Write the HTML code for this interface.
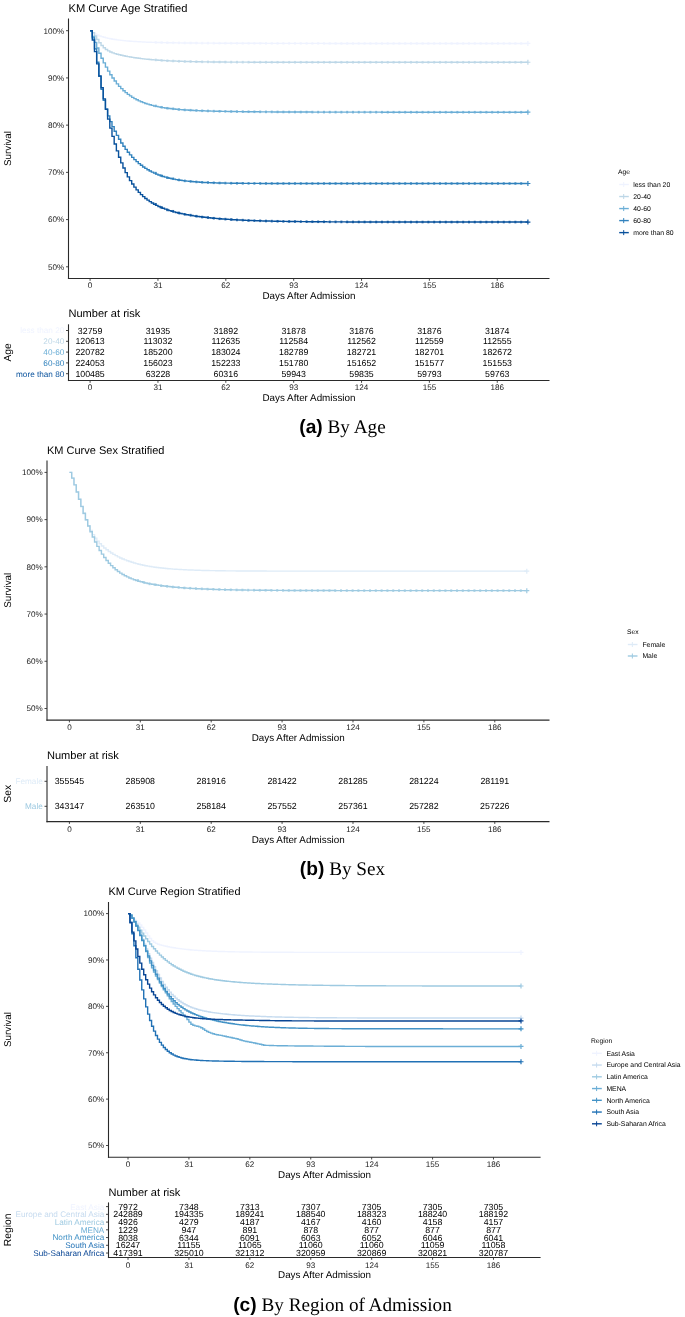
<!DOCTYPE html>
<html><head><meta charset="utf-8"><title>KM Curves</title>
<style>html,body{margin:0;padding:0;background:#fff;width:685px;height:1317px;overflow:hidden;font-family:"Liberation Sans",sans-serif;}</style>
</head><body>
<svg width="685" height="1317" viewBox="0 0 685 1317" style="display:block;filter:blur(0.3px);text-rendering:geometricPrecision">
<rect width="685" height="1317" fill="#fff"/>
<text x="68.50" y="11.70" font-size="11.15" text-anchor="start" fill="#000" font-weight="normal" font-family='"Liberation Sans", sans-serif' >KM Curve Age Stratified</text>
<path d="M90.10,30.70H92.29V32.73H94.48V34.03H96.67V35.07H98.86V35.93H101.04V36.67H103.23V37.31H105.42V37.87H107.61V38.37H109.80V38.81H111.99V39.20H114.18V39.55H116.37V39.87H118.56V40.15H120.75V40.41H122.94V40.64H125.12V40.85H127.31V41.04H129.50V41.22H131.69V41.38H133.88V41.52H136.07V41.66H138.26V41.78H140.45V41.89H142.64V41.99H144.82V42.09H147.01V42.18H149.20V42.26H151.39V42.33H153.58V42.40H155.77V42.46H157.96V42.52H160.15V42.57H162.34V42.62H164.53V42.67H166.72V42.71H168.90V42.75H171.09V42.79H173.28V42.82H175.47V42.85H177.66V42.88H179.85V42.91H182.04V42.94H184.23V42.96H186.42V42.98H188.60V43.00H190.79V43.02H192.98V43.04H195.17V43.06H197.36V43.08H199.55V43.09H201.74V43.11H203.93V43.12H206.12V43.13H208.31V43.14H210.50V43.16H212.68V43.17H214.87V43.18H217.06V43.19H219.25V43.20H221.44V43.20H223.63V43.21H225.82V43.22H228.01V43.23H230.20V43.24H232.38V43.24H234.57V43.25H236.76V43.26H238.95V43.26H241.14V43.27H243.33V43.28H245.52V43.28H247.71V43.29H249.90V43.29H252.09V43.30H254.28V43.31H256.46V43.31H258.65V43.32H260.84V43.32H263.03V43.33H265.22V43.33H267.41V43.34H269.60V43.34H271.79V43.35H273.98V43.35H276.16V43.35H278.35V43.36H280.54V43.36H282.73V43.37H284.92V43.37H287.11V43.38H289.30V43.38H291.49V43.38H293.68V43.39H295.87V43.39H298.06V43.39H300.24V43.40H302.43V43.40H304.62V43.40H306.81V43.41H309.00V43.41H311.19V43.41H313.38V43.41H315.57V43.42H317.76V43.42H319.94V43.42H322.13V43.42H324.32V43.43H326.51V43.43H328.70V43.43H330.89V43.43H333.08V43.43H335.27V43.44H337.46V43.44H339.65V43.44H341.84V43.44H344.02V43.44H346.21V43.44H348.40V43.44H350.59V43.45H352.78V43.45H354.97V43.45H357.16V43.45H359.35V43.45H361.54V43.45H363.73V43.45H365.91V43.45H368.10V43.45H370.29V43.45H372.48V43.45H374.67V43.45H376.86V43.45H379.05V43.45H381.24V43.45H383.43V43.45H385.62V43.45H387.80V43.45H389.99V43.45H392.18V43.45H394.37V43.46H396.56V43.46H398.75V43.46H400.94V43.46H403.13V43.46H405.32V43.46H407.50V43.46H409.69V43.46H411.88V43.46H414.07V43.46H416.26V43.46H418.45V43.46H420.64V43.46H422.83V43.46H425.02V43.46H427.21V43.46H429.39V43.46H431.58V43.46H433.77V43.46H435.96V43.46H438.15V43.46H440.34V43.46H442.53V43.46H444.72V43.46H446.91V43.46H449.10V43.46H451.28V43.46H453.47V43.46H455.66V43.46H457.85V43.46H460.04V43.46H462.23V43.46H464.42V43.46H466.61V43.46H468.80V43.46H470.99V43.46H473.17V43.46H475.36V43.46H477.55V43.46H479.74V43.46H481.93V43.46H484.12V43.46H486.31V43.46H488.50V43.46H490.69V43.46H492.88V43.46H495.07V43.46H497.25V43.46H499.44V43.46H501.63V43.46H503.82V43.46H506.01V43.46H508.20V43.46H510.39V43.46H512.58V43.46H514.77V43.46H516.96V43.46H519.14V43.46H521.33V43.46H523.52V43.46H525.71V43.46H527.90V43.46" fill="none" stroke="#EFF3FF" stroke-width="1.4" stroke-linejoin="miter"/>
<rect x="154.77" y="41.10" width="2.0" height="2.6" fill="#EFF3FF" opacity="0.8"/>
<rect x="160.57" y="41.27" width="2.0" height="2.6" fill="#EFF3FF" opacity="0.8"/>
<rect x="166.37" y="41.41" width="2.0" height="2.6" fill="#EFF3FF" opacity="0.8"/>
<rect x="172.17" y="41.49" width="2.0" height="2.6" fill="#EFF3FF" opacity="0.8"/>
<rect x="177.97" y="41.58" width="2.0" height="2.6" fill="#EFF3FF" opacity="0.8"/>
<rect x="183.77" y="41.66" width="2.0" height="2.6" fill="#EFF3FF" opacity="0.8"/>
<rect x="189.57" y="41.70" width="2.0" height="2.6" fill="#EFF3FF" opacity="0.8"/>
<rect x="195.37" y="41.76" width="2.0" height="2.6" fill="#EFF3FF" opacity="0.8"/>
<rect x="201.17" y="41.81" width="2.0" height="2.6" fill="#EFF3FF" opacity="0.8"/>
<rect x="206.97" y="41.83" width="2.0" height="2.6" fill="#EFF3FF" opacity="0.8"/>
<rect x="212.77" y="41.87" width="2.0" height="2.6" fill="#EFF3FF" opacity="0.8"/>
<rect x="218.57" y="41.90" width="2.0" height="2.6" fill="#EFF3FF" opacity="0.8"/>
<rect x="224.37" y="41.91" width="2.0" height="2.6" fill="#EFF3FF" opacity="0.8"/>
<rect x="230.17" y="41.94" width="2.0" height="2.6" fill="#EFF3FF" opacity="0.8"/>
<rect x="235.97" y="41.96" width="2.0" height="2.6" fill="#EFF3FF" opacity="0.8"/>
<rect x="241.77" y="41.97" width="2.0" height="2.6" fill="#EFF3FF" opacity="0.8"/>
<rect x="247.57" y="41.99" width="2.0" height="2.6" fill="#EFF3FF" opacity="0.8"/>
<rect x="253.37" y="42.01" width="2.0" height="2.6" fill="#EFF3FF" opacity="0.8"/>
<rect x="259.17" y="42.02" width="2.0" height="2.6" fill="#EFF3FF" opacity="0.8"/>
<rect x="264.97" y="42.03" width="2.0" height="2.6" fill="#EFF3FF" opacity="0.8"/>
<rect x="270.77" y="42.04" width="2.0" height="2.6" fill="#EFF3FF" opacity="0.8"/>
<rect x="276.57" y="42.05" width="2.0" height="2.6" fill="#EFF3FF" opacity="0.8"/>
<rect x="282.37" y="42.07" width="2.0" height="2.6" fill="#EFF3FF" opacity="0.8"/>
<rect x="288.17" y="42.08" width="2.0" height="2.6" fill="#EFF3FF" opacity="0.8"/>
<rect x="293.97" y="42.09" width="2.0" height="2.6" fill="#EFF3FF" opacity="0.8"/>
<rect x="299.77" y="42.10" width="2.0" height="2.6" fill="#EFF3FF" opacity="0.8"/>
<rect x="305.57" y="42.10" width="2.0" height="2.6" fill="#EFF3FF" opacity="0.8"/>
<rect x="311.37" y="42.11" width="2.0" height="2.6" fill="#EFF3FF" opacity="0.8"/>
<rect x="317.17" y="42.12" width="2.0" height="2.6" fill="#EFF3FF" opacity="0.8"/>
<rect x="322.97" y="42.12" width="2.0" height="2.6" fill="#EFF3FF" opacity="0.8"/>
<rect x="328.77" y="42.13" width="2.0" height="2.6" fill="#EFF3FF" opacity="0.8"/>
<rect x="334.57" y="42.14" width="2.0" height="2.6" fill="#EFF3FF" opacity="0.8"/>
<rect x="340.37" y="42.14" width="2.0" height="2.6" fill="#EFF3FF" opacity="0.8"/>
<rect x="346.17" y="42.14" width="2.0" height="2.6" fill="#EFF3FF" opacity="0.8"/>
<rect x="351.97" y="42.15" width="2.0" height="2.6" fill="#EFF3FF" opacity="0.8"/>
<rect x="357.77" y="42.15" width="2.0" height="2.6" fill="#EFF3FF" opacity="0.8"/>
<rect x="363.57" y="42.15" width="2.0" height="2.6" fill="#EFF3FF" opacity="0.8"/>
<rect x="369.37" y="42.15" width="2.0" height="2.6" fill="#EFF3FF" opacity="0.8"/>
<rect x="375.17" y="42.15" width="2.0" height="2.6" fill="#EFF3FF" opacity="0.8"/>
<rect x="380.97" y="42.15" width="2.0" height="2.6" fill="#EFF3FF" opacity="0.8"/>
<rect x="386.77" y="42.15" width="2.0" height="2.6" fill="#EFF3FF" opacity="0.8"/>
<rect x="392.57" y="42.15" width="2.0" height="2.6" fill="#EFF3FF" opacity="0.8"/>
<rect x="398.37" y="42.16" width="2.0" height="2.6" fill="#EFF3FF" opacity="0.8"/>
<rect x="404.17" y="42.16" width="2.0" height="2.6" fill="#EFF3FF" opacity="0.8"/>
<rect x="409.97" y="42.16" width="2.0" height="2.6" fill="#EFF3FF" opacity="0.8"/>
<rect x="415.77" y="42.16" width="2.0" height="2.6" fill="#EFF3FF" opacity="0.8"/>
<rect x="421.57" y="42.16" width="2.0" height="2.6" fill="#EFF3FF" opacity="0.8"/>
<rect x="427.37" y="42.16" width="2.0" height="2.6" fill="#EFF3FF" opacity="0.8"/>
<rect x="433.17" y="42.16" width="2.0" height="2.6" fill="#EFF3FF" opacity="0.8"/>
<rect x="438.97" y="42.16" width="2.0" height="2.6" fill="#EFF3FF" opacity="0.8"/>
<rect x="444.77" y="42.16" width="2.0" height="2.6" fill="#EFF3FF" opacity="0.8"/>
<rect x="450.57" y="42.16" width="2.0" height="2.6" fill="#EFF3FF" opacity="0.8"/>
<rect x="456.37" y="42.16" width="2.0" height="2.6" fill="#EFF3FF" opacity="0.8"/>
<rect x="462.17" y="42.16" width="2.0" height="2.6" fill="#EFF3FF" opacity="0.8"/>
<rect x="467.97" y="42.16" width="2.0" height="2.6" fill="#EFF3FF" opacity="0.8"/>
<rect x="473.77" y="42.16" width="2.0" height="2.6" fill="#EFF3FF" opacity="0.8"/>
<rect x="479.57" y="42.16" width="2.0" height="2.6" fill="#EFF3FF" opacity="0.8"/>
<rect x="485.37" y="42.16" width="2.0" height="2.6" fill="#EFF3FF" opacity="0.8"/>
<rect x="491.17" y="42.16" width="2.0" height="2.6" fill="#EFF3FF" opacity="0.8"/>
<rect x="496.97" y="42.16" width="2.0" height="2.6" fill="#EFF3FF" opacity="0.8"/>
<rect x="502.77" y="42.16" width="2.0" height="2.6" fill="#EFF3FF" opacity="0.8"/>
<rect x="508.57" y="42.16" width="2.0" height="2.6" fill="#EFF3FF" opacity="0.8"/>
<rect x="514.37" y="42.16" width="2.0" height="2.6" fill="#EFF3FF" opacity="0.8"/>
<rect x="520.17" y="42.16" width="2.0" height="2.6" fill="#EFF3FF" opacity="0.8"/>
<path d="M525.40,43.46H530.40M527.90,40.96V45.96" stroke="#EFF3FF" stroke-width="1.2" fill="none"/>
<path d="M90.10,30.70H92.29V32.78H94.48V36.02H96.67V39.47H98.86V42.69H101.04V45.45H103.23V47.70H105.42V49.48H107.61V50.87H109.80V51.97H111.99V52.85H114.18V53.59H116.37V54.23H118.56V54.79H120.75V55.30H122.94V55.78H125.12V56.21H127.31V56.62H129.50V57.01H131.69V57.36H133.88V57.70H136.07V58.02H138.26V58.31H140.45V58.59H142.64V58.84H144.82V59.08H147.01V59.31H149.20V59.52H151.39V59.72H153.58V59.90H155.77V60.07H157.96V60.23H160.15V60.37H162.34V60.51H164.53V60.64H166.72V60.76H168.90V60.87H171.09V60.97H173.28V61.07H175.47V61.15H177.66V61.24H179.85V61.31H182.04V61.38H184.23V61.45H186.42V61.51H188.60V61.57H190.79V61.62H192.98V61.67H195.17V61.71H197.36V61.75H199.55V61.79H201.74V61.83H203.93V61.86H206.12V61.89H208.31V61.92H210.50V61.94H212.68V61.97H214.87V61.99H217.06V62.01H219.25V62.03H221.44V62.04H223.63V62.06H225.82V62.08H228.01V62.09H230.20V62.10H232.38V62.11H234.57V62.12H236.76V62.13H238.95V62.14H241.14V62.15H243.33V62.16H245.52V62.17H247.71V62.17H249.90V62.18H252.09V62.18H254.28V62.19H256.46V62.19H258.65V62.20H260.84V62.20H263.03V62.21H265.22V62.21H267.41V62.21H269.60V62.22H271.79V62.22H273.98V62.22H276.16V62.22H278.35V62.22H280.54V62.23H282.73V62.23H284.92V62.23H287.11V62.23H289.30V62.23H291.49V62.23H293.68V62.23H295.87V62.24H298.06V62.24H300.24V62.24H302.43V62.24H304.62V62.24H306.81V62.24H309.00V62.24H311.19V62.24H313.38V62.24H315.57V62.24H317.76V62.24H319.94V62.24H322.13V62.24H324.32V62.24H326.51V62.24H328.70V62.24H330.89V62.24H333.08V62.24H335.27V62.24H337.46V62.24H339.65V62.25H341.84V62.25H344.02V62.25H346.21V62.25H348.40V62.25H350.59V62.25H352.78V62.25H354.97V62.25H357.16V62.25H359.35V62.25H361.54V62.25H363.73V62.25H365.91V62.25H368.10V62.25H370.29V62.25H372.48V62.25H374.67V62.25H376.86V62.25H379.05V62.25H381.24V62.25H383.43V62.25H385.62V62.25H387.80V62.25H389.99V62.25H392.18V62.25H394.37V62.25H396.56V62.25H398.75V62.25H400.94V62.25H403.13V62.25H405.32V62.25H407.50V62.25H409.69V62.25H411.88V62.25H414.07V62.25H416.26V62.25H418.45V62.25H420.64V62.25H422.83V62.25H425.02V62.25H427.21V62.25H429.39V62.25H431.58V62.25H433.77V62.25H435.96V62.25H438.15V62.25H440.34V62.25H442.53V62.25H444.72V62.25H446.91V62.25H449.10V62.25H451.28V62.25H453.47V62.25H455.66V62.25H457.85V62.25H460.04V62.25H462.23V62.25H464.42V62.25H466.61V62.25H468.80V62.25H470.99V62.25H473.17V62.25H475.36V62.25H477.55V62.25H479.74V62.25H481.93V62.25H484.12V62.25H486.31V62.25H488.50V62.25H490.69V62.25H492.88V62.25H495.07V62.25H497.25V62.25H499.44V62.25H501.63V62.25H503.82V62.25H506.01V62.25H508.20V62.25H510.39V62.25H512.58V62.25H514.77V62.25H516.96V62.25H519.14V62.25H521.33V62.25H523.52V62.25H525.71V62.25H527.90V62.25" fill="none" stroke="#BDD7E7" stroke-width="1.4" stroke-linejoin="miter"/>
<rect x="154.77" y="58.60" width="2.0" height="2.6" fill="#BDD7E7" opacity="0.8"/>
<rect x="160.57" y="59.07" width="2.0" height="2.6" fill="#BDD7E7" opacity="0.8"/>
<rect x="166.37" y="59.46" width="2.0" height="2.6" fill="#BDD7E7" opacity="0.8"/>
<rect x="172.17" y="59.67" width="2.0" height="2.6" fill="#BDD7E7" opacity="0.8"/>
<rect x="177.97" y="59.94" width="2.0" height="2.6" fill="#BDD7E7" opacity="0.8"/>
<rect x="183.77" y="60.15" width="2.0" height="2.6" fill="#BDD7E7" opacity="0.8"/>
<rect x="189.57" y="60.27" width="2.0" height="2.6" fill="#BDD7E7" opacity="0.8"/>
<rect x="195.37" y="60.41" width="2.0" height="2.6" fill="#BDD7E7" opacity="0.8"/>
<rect x="201.17" y="60.53" width="2.0" height="2.6" fill="#BDD7E7" opacity="0.8"/>
<rect x="206.97" y="60.59" width="2.0" height="2.6" fill="#BDD7E7" opacity="0.8"/>
<rect x="212.77" y="60.67" width="2.0" height="2.6" fill="#BDD7E7" opacity="0.8"/>
<rect x="218.57" y="60.73" width="2.0" height="2.6" fill="#BDD7E7" opacity="0.8"/>
<rect x="224.37" y="60.76" width="2.0" height="2.6" fill="#BDD7E7" opacity="0.8"/>
<rect x="230.17" y="60.80" width="2.0" height="2.6" fill="#BDD7E7" opacity="0.8"/>
<rect x="235.97" y="60.83" width="2.0" height="2.6" fill="#BDD7E7" opacity="0.8"/>
<rect x="241.77" y="60.85" width="2.0" height="2.6" fill="#BDD7E7" opacity="0.8"/>
<rect x="247.57" y="60.87" width="2.0" height="2.6" fill="#BDD7E7" opacity="0.8"/>
<rect x="253.37" y="60.89" width="2.0" height="2.6" fill="#BDD7E7" opacity="0.8"/>
<rect x="259.17" y="60.90" width="2.0" height="2.6" fill="#BDD7E7" opacity="0.8"/>
<rect x="264.97" y="60.91" width="2.0" height="2.6" fill="#BDD7E7" opacity="0.8"/>
<rect x="270.77" y="60.92" width="2.0" height="2.6" fill="#BDD7E7" opacity="0.8"/>
<rect x="276.57" y="60.92" width="2.0" height="2.6" fill="#BDD7E7" opacity="0.8"/>
<rect x="282.37" y="60.93" width="2.0" height="2.6" fill="#BDD7E7" opacity="0.8"/>
<rect x="288.17" y="60.93" width="2.0" height="2.6" fill="#BDD7E7" opacity="0.8"/>
<rect x="293.97" y="60.93" width="2.0" height="2.6" fill="#BDD7E7" opacity="0.8"/>
<rect x="299.77" y="60.94" width="2.0" height="2.6" fill="#BDD7E7" opacity="0.8"/>
<rect x="305.57" y="60.94" width="2.0" height="2.6" fill="#BDD7E7" opacity="0.8"/>
<rect x="311.37" y="60.94" width="2.0" height="2.6" fill="#BDD7E7" opacity="0.8"/>
<rect x="317.17" y="60.94" width="2.0" height="2.6" fill="#BDD7E7" opacity="0.8"/>
<rect x="322.97" y="60.94" width="2.0" height="2.6" fill="#BDD7E7" opacity="0.8"/>
<rect x="328.77" y="60.94" width="2.0" height="2.6" fill="#BDD7E7" opacity="0.8"/>
<rect x="334.57" y="60.94" width="2.0" height="2.6" fill="#BDD7E7" opacity="0.8"/>
<rect x="340.37" y="60.95" width="2.0" height="2.6" fill="#BDD7E7" opacity="0.8"/>
<rect x="346.17" y="60.95" width="2.0" height="2.6" fill="#BDD7E7" opacity="0.8"/>
<rect x="351.97" y="60.95" width="2.0" height="2.6" fill="#BDD7E7" opacity="0.8"/>
<rect x="357.77" y="60.95" width="2.0" height="2.6" fill="#BDD7E7" opacity="0.8"/>
<rect x="363.57" y="60.95" width="2.0" height="2.6" fill="#BDD7E7" opacity="0.8"/>
<rect x="369.37" y="60.95" width="2.0" height="2.6" fill="#BDD7E7" opacity="0.8"/>
<rect x="375.17" y="60.95" width="2.0" height="2.6" fill="#BDD7E7" opacity="0.8"/>
<rect x="380.97" y="60.95" width="2.0" height="2.6" fill="#BDD7E7" opacity="0.8"/>
<rect x="386.77" y="60.95" width="2.0" height="2.6" fill="#BDD7E7" opacity="0.8"/>
<rect x="392.57" y="60.95" width="2.0" height="2.6" fill="#BDD7E7" opacity="0.8"/>
<rect x="398.37" y="60.95" width="2.0" height="2.6" fill="#BDD7E7" opacity="0.8"/>
<rect x="404.17" y="60.95" width="2.0" height="2.6" fill="#BDD7E7" opacity="0.8"/>
<rect x="409.97" y="60.95" width="2.0" height="2.6" fill="#BDD7E7" opacity="0.8"/>
<rect x="415.77" y="60.95" width="2.0" height="2.6" fill="#BDD7E7" opacity="0.8"/>
<rect x="421.57" y="60.95" width="2.0" height="2.6" fill="#BDD7E7" opacity="0.8"/>
<rect x="427.37" y="60.95" width="2.0" height="2.6" fill="#BDD7E7" opacity="0.8"/>
<rect x="433.17" y="60.95" width="2.0" height="2.6" fill="#BDD7E7" opacity="0.8"/>
<rect x="438.97" y="60.95" width="2.0" height="2.6" fill="#BDD7E7" opacity="0.8"/>
<rect x="444.77" y="60.95" width="2.0" height="2.6" fill="#BDD7E7" opacity="0.8"/>
<rect x="450.57" y="60.95" width="2.0" height="2.6" fill="#BDD7E7" opacity="0.8"/>
<rect x="456.37" y="60.95" width="2.0" height="2.6" fill="#BDD7E7" opacity="0.8"/>
<rect x="462.17" y="60.95" width="2.0" height="2.6" fill="#BDD7E7" opacity="0.8"/>
<rect x="467.97" y="60.95" width="2.0" height="2.6" fill="#BDD7E7" opacity="0.8"/>
<rect x="473.77" y="60.95" width="2.0" height="2.6" fill="#BDD7E7" opacity="0.8"/>
<rect x="479.57" y="60.95" width="2.0" height="2.6" fill="#BDD7E7" opacity="0.8"/>
<rect x="485.37" y="60.95" width="2.0" height="2.6" fill="#BDD7E7" opacity="0.8"/>
<rect x="491.17" y="60.95" width="2.0" height="2.6" fill="#BDD7E7" opacity="0.8"/>
<rect x="496.97" y="60.95" width="2.0" height="2.6" fill="#BDD7E7" opacity="0.8"/>
<rect x="502.77" y="60.95" width="2.0" height="2.6" fill="#BDD7E7" opacity="0.8"/>
<rect x="508.57" y="60.95" width="2.0" height="2.6" fill="#BDD7E7" opacity="0.8"/>
<rect x="514.37" y="60.95" width="2.0" height="2.6" fill="#BDD7E7" opacity="0.8"/>
<rect x="520.17" y="60.95" width="2.0" height="2.6" fill="#BDD7E7" opacity="0.8"/>
<path d="M525.40,62.25H530.40M527.90,59.75V64.75" stroke="#BDD7E7" stroke-width="1.2" fill="none"/>
<path d="M90.10,30.70H92.29V36.50H94.48V42.36H96.67V47.99H98.86V53.30H101.04V58.27H103.23V62.89H105.42V67.17H107.61V71.10H109.80V74.72H111.99V78.04H114.18V81.07H116.37V83.83H118.56V86.35H120.75V88.65H122.94V90.74H125.12V92.63H127.31V94.36H129.50V95.92H131.69V97.34H133.88V98.62H136.07V99.79H138.26V100.84H140.45V101.80H142.64V102.67H144.82V103.45H147.01V104.17H149.20V104.81H151.39V105.40H153.58V105.93H155.77V106.42H157.96V106.86H160.15V107.26H162.34V107.62H164.53V107.95H166.72V108.26H168.90V108.54H171.09V108.79H173.28V109.02H175.47V109.23H177.66V109.43H179.85V109.61H182.04V109.77H184.23V109.93H186.42V110.07H188.60V110.20H190.79V110.32H192.98V110.43H195.17V110.53H197.36V110.63H199.55V110.71H201.74V110.80H203.93V110.87H206.12V110.95H208.31V111.01H210.50V111.08H212.68V111.14H214.87V111.19H217.06V111.24H219.25V111.29H221.44V111.34H223.63V111.38H225.82V111.42H228.01V111.46H230.20V111.50H232.38V111.53H234.57V111.56H236.76V111.60H238.95V111.62H241.14V111.65H243.33V111.68H245.52V111.70H247.71V111.73H249.90V111.75H252.09V111.77H254.28V111.79H256.46V111.81H258.65V111.83H260.84V111.84H263.03V111.86H265.22V111.88H267.41V111.89H269.60V111.91H271.79V111.92H273.98V111.93H276.16V111.94H278.35V111.96H280.54V111.97H282.73V111.98H284.92V111.99H287.11V112.00H289.30V112.01H291.49V112.02H293.68V112.02H295.87V112.03H298.06V112.04H300.24V112.05H302.43V112.05H304.62V112.06H306.81V112.07H309.00V112.07H311.19V112.08H313.38V112.09H315.57V112.09H317.76V112.10H319.94V112.10H322.13V112.11H324.32V112.11H326.51V112.11H328.70V112.12H330.89V112.12H333.08V112.13H335.27V112.13H337.46V112.13H339.65V112.14H341.84V112.14H344.02V112.14H346.21V112.14H348.40V112.15H350.59V112.15H352.78V112.15H354.97V112.15H357.16V112.16H359.35V112.16H361.54V112.16H363.73V112.16H365.91V112.16H368.10V112.17H370.29V112.17H372.48V112.17H374.67V112.17H376.86V112.17H379.05V112.17H381.24V112.18H383.43V112.18H385.62V112.18H387.80V112.18H389.99V112.18H392.18V112.18H394.37V112.18H396.56V112.18H398.75V112.19H400.94V112.19H403.13V112.19H405.32V112.19H407.50V112.19H409.69V112.19H411.88V112.19H414.07V112.19H416.26V112.19H418.45V112.19H420.64V112.19H422.83V112.19H425.02V112.19H427.21V112.20H429.39V112.20H431.58V112.20H433.77V112.20H435.96V112.20H438.15V112.20H440.34V112.20H442.53V112.20H444.72V112.20H446.91V112.20H449.10V112.20H451.28V112.20H453.47V112.20H455.66V112.20H457.85V112.20H460.04V112.20H462.23V112.20H464.42V112.20H466.61V112.20H468.80V112.20H470.99V112.20H473.17V112.20H475.36V112.20H477.55V112.20H479.74V112.20H481.93V112.20H484.12V112.20H486.31V112.20H488.50V112.20H490.69V112.20H492.88V112.20H495.07V112.20H497.25V112.20H499.44V112.20H501.63V112.20H503.82V112.21H506.01V112.21H508.20V112.21H510.39V112.21H512.58V112.21H514.77V112.21H516.96V112.21H519.14V112.21H521.33V112.21H523.52V112.21H525.71V112.21H527.90V112.21" fill="none" stroke="#6BAED6" stroke-width="1.4" stroke-linejoin="miter"/>
<rect x="154.77" y="104.63" width="2.0" height="2.6" fill="#6BAED6" opacity="0.8"/>
<rect x="160.57" y="105.96" width="2.0" height="2.6" fill="#6BAED6" opacity="0.8"/>
<rect x="166.37" y="106.96" width="2.0" height="2.6" fill="#6BAED6" opacity="0.8"/>
<rect x="172.17" y="107.49" width="2.0" height="2.6" fill="#6BAED6" opacity="0.8"/>
<rect x="177.97" y="108.13" width="2.0" height="2.6" fill="#6BAED6" opacity="0.8"/>
<rect x="183.77" y="108.63" width="2.0" height="2.6" fill="#6BAED6" opacity="0.8"/>
<rect x="189.57" y="108.90" width="2.0" height="2.6" fill="#6BAED6" opacity="0.8"/>
<rect x="195.37" y="109.23" width="2.0" height="2.6" fill="#6BAED6" opacity="0.8"/>
<rect x="201.17" y="109.50" width="2.0" height="2.6" fill="#6BAED6" opacity="0.8"/>
<rect x="206.97" y="109.65" width="2.0" height="2.6" fill="#6BAED6" opacity="0.8"/>
<rect x="212.77" y="109.84" width="2.0" height="2.6" fill="#6BAED6" opacity="0.8"/>
<rect x="218.57" y="109.99" width="2.0" height="2.6" fill="#6BAED6" opacity="0.8"/>
<rect x="224.37" y="110.08" width="2.0" height="2.6" fill="#6BAED6" opacity="0.8"/>
<rect x="230.17" y="110.20" width="2.0" height="2.6" fill="#6BAED6" opacity="0.8"/>
<rect x="235.97" y="110.30" width="2.0" height="2.6" fill="#6BAED6" opacity="0.8"/>
<rect x="241.77" y="110.35" width="2.0" height="2.6" fill="#6BAED6" opacity="0.8"/>
<rect x="247.57" y="110.43" width="2.0" height="2.6" fill="#6BAED6" opacity="0.8"/>
<rect x="253.37" y="110.49" width="2.0" height="2.6" fill="#6BAED6" opacity="0.8"/>
<rect x="259.17" y="110.53" width="2.0" height="2.6" fill="#6BAED6" opacity="0.8"/>
<rect x="264.97" y="110.58" width="2.0" height="2.6" fill="#6BAED6" opacity="0.8"/>
<rect x="270.77" y="110.61" width="2.0" height="2.6" fill="#6BAED6" opacity="0.8"/>
<rect x="276.57" y="110.64" width="2.0" height="2.6" fill="#6BAED6" opacity="0.8"/>
<rect x="282.37" y="110.68" width="2.0" height="2.6" fill="#6BAED6" opacity="0.8"/>
<rect x="288.17" y="110.70" width="2.0" height="2.6" fill="#6BAED6" opacity="0.8"/>
<rect x="293.97" y="110.72" width="2.0" height="2.6" fill="#6BAED6" opacity="0.8"/>
<rect x="299.77" y="110.75" width="2.0" height="2.6" fill="#6BAED6" opacity="0.8"/>
<rect x="305.57" y="110.76" width="2.0" height="2.6" fill="#6BAED6" opacity="0.8"/>
<rect x="311.37" y="110.78" width="2.0" height="2.6" fill="#6BAED6" opacity="0.8"/>
<rect x="317.17" y="110.80" width="2.0" height="2.6" fill="#6BAED6" opacity="0.8"/>
<rect x="322.97" y="110.81" width="2.0" height="2.6" fill="#6BAED6" opacity="0.8"/>
<rect x="328.77" y="110.82" width="2.0" height="2.6" fill="#6BAED6" opacity="0.8"/>
<rect x="334.57" y="110.83" width="2.0" height="2.6" fill="#6BAED6" opacity="0.8"/>
<rect x="340.37" y="110.84" width="2.0" height="2.6" fill="#6BAED6" opacity="0.8"/>
<rect x="346.17" y="110.84" width="2.0" height="2.6" fill="#6BAED6" opacity="0.8"/>
<rect x="351.97" y="110.85" width="2.0" height="2.6" fill="#6BAED6" opacity="0.8"/>
<rect x="357.77" y="110.86" width="2.0" height="2.6" fill="#6BAED6" opacity="0.8"/>
<rect x="363.57" y="110.86" width="2.0" height="2.6" fill="#6BAED6" opacity="0.8"/>
<rect x="369.37" y="110.87" width="2.0" height="2.6" fill="#6BAED6" opacity="0.8"/>
<rect x="375.17" y="110.87" width="2.0" height="2.6" fill="#6BAED6" opacity="0.8"/>
<rect x="380.97" y="110.88" width="2.0" height="2.6" fill="#6BAED6" opacity="0.8"/>
<rect x="386.77" y="110.88" width="2.0" height="2.6" fill="#6BAED6" opacity="0.8"/>
<rect x="392.57" y="110.88" width="2.0" height="2.6" fill="#6BAED6" opacity="0.8"/>
<rect x="398.37" y="110.89" width="2.0" height="2.6" fill="#6BAED6" opacity="0.8"/>
<rect x="404.17" y="110.89" width="2.0" height="2.6" fill="#6BAED6" opacity="0.8"/>
<rect x="409.97" y="110.89" width="2.0" height="2.6" fill="#6BAED6" opacity="0.8"/>
<rect x="415.77" y="110.89" width="2.0" height="2.6" fill="#6BAED6" opacity="0.8"/>
<rect x="421.57" y="110.89" width="2.0" height="2.6" fill="#6BAED6" opacity="0.8"/>
<rect x="427.37" y="110.90" width="2.0" height="2.6" fill="#6BAED6" opacity="0.8"/>
<rect x="433.17" y="110.90" width="2.0" height="2.6" fill="#6BAED6" opacity="0.8"/>
<rect x="438.97" y="110.90" width="2.0" height="2.6" fill="#6BAED6" opacity="0.8"/>
<rect x="444.77" y="110.90" width="2.0" height="2.6" fill="#6BAED6" opacity="0.8"/>
<rect x="450.57" y="110.90" width="2.0" height="2.6" fill="#6BAED6" opacity="0.8"/>
<rect x="456.37" y="110.90" width="2.0" height="2.6" fill="#6BAED6" opacity="0.8"/>
<rect x="462.17" y="110.90" width="2.0" height="2.6" fill="#6BAED6" opacity="0.8"/>
<rect x="467.97" y="110.90" width="2.0" height="2.6" fill="#6BAED6" opacity="0.8"/>
<rect x="473.77" y="110.90" width="2.0" height="2.6" fill="#6BAED6" opacity="0.8"/>
<rect x="479.57" y="110.90" width="2.0" height="2.6" fill="#6BAED6" opacity="0.8"/>
<rect x="485.37" y="110.90" width="2.0" height="2.6" fill="#6BAED6" opacity="0.8"/>
<rect x="491.17" y="110.90" width="2.0" height="2.6" fill="#6BAED6" opacity="0.8"/>
<rect x="496.97" y="110.90" width="2.0" height="2.6" fill="#6BAED6" opacity="0.8"/>
<rect x="502.77" y="110.90" width="2.0" height="2.6" fill="#6BAED6" opacity="0.8"/>
<rect x="508.57" y="110.91" width="2.0" height="2.6" fill="#6BAED6" opacity="0.8"/>
<rect x="514.37" y="110.91" width="2.0" height="2.6" fill="#6BAED6" opacity="0.8"/>
<rect x="520.17" y="110.91" width="2.0" height="2.6" fill="#6BAED6" opacity="0.8"/>
<path d="M525.40,112.21H530.40M527.90,109.71V114.71" stroke="#6BAED6" stroke-width="1.2" fill="none"/>
<path d="M90.10,30.70H92.29V37.86H94.48V48.87H96.67V62.32H98.86V76.39H101.04V89.37H103.23V100.25H105.42V108.92H107.61V115.85H109.80V121.60H111.99V126.64H114.18V131.20H116.37V135.40H118.56V139.31H120.75V142.93H122.94V146.28H125.12V149.39H127.31V152.26H129.50V154.91H131.69V157.35H133.88V159.60H136.07V161.67H138.26V163.58H140.45V165.32H142.64V166.93H144.82V168.40H147.01V169.74H149.20V170.98H151.39V172.11H153.58V173.14H155.77V174.08H157.96V174.94H160.15V175.73H162.34V176.44H164.53V177.10H166.72V177.69H168.90V178.23H171.09V178.73H173.28V179.17H175.47V179.58H177.66V179.95H179.85V180.29H182.04V180.59H184.23V180.87H186.42V181.12H188.60V181.35H190.79V181.56H192.98V181.75H195.17V181.92H197.36V182.07H199.55V182.21H201.74V182.33H203.93V182.45H206.12V182.55H208.31V182.64H210.50V182.73H212.68V182.80H214.87V182.87H217.06V182.94H219.25V182.99H221.44V183.04H223.63V183.09H225.82V183.13H228.01V183.17H230.20V183.20H232.38V183.23H234.57V183.26H236.76V183.28H238.95V183.30H241.14V183.32H243.33V183.34H245.52V183.36H247.71V183.37H249.90V183.38H252.09V183.39H254.28V183.41H256.46V183.41H258.65V183.42H260.84V183.43H263.03V183.44H265.22V183.44H267.41V183.45H269.60V183.45H271.79V183.46H273.98V183.46H276.16V183.47H278.35V183.47H280.54V183.47H282.73V183.47H284.92V183.48H287.11V183.48H289.30V183.48H291.49V183.48H293.68V183.48H295.87V183.49H298.06V183.49H300.24V183.49H302.43V183.49H304.62V183.49H306.81V183.49H309.00V183.49H311.19V183.49H313.38V183.49H315.57V183.49H317.76V183.49H319.94V183.49H322.13V183.49H324.32V183.49H326.51V183.49H328.70V183.49H330.89V183.49H333.08V183.49H335.27V183.50H337.46V183.50H339.65V183.50H341.84V183.50H344.02V183.50H346.21V183.50H348.40V183.50H350.59V183.50H352.78V183.50H354.97V183.50H357.16V183.50H359.35V183.50H361.54V183.50H363.73V183.50H365.91V183.50H368.10V183.50H370.29V183.50H372.48V183.50H374.67V183.50H376.86V183.50H379.05V183.50H381.24V183.50H383.43V183.50H385.62V183.50H387.80V183.50H389.99V183.50H392.18V183.50H394.37V183.50H396.56V183.50H398.75V183.50H400.94V183.50H403.13V183.50H405.32V183.50H407.50V183.50H409.69V183.50H411.88V183.50H414.07V183.50H416.26V183.50H418.45V183.50H420.64V183.50H422.83V183.50H425.02V183.50H427.21V183.50H429.39V183.50H431.58V183.50H433.77V183.50H435.96V183.50H438.15V183.50H440.34V183.50H442.53V183.50H444.72V183.50H446.91V183.50H449.10V183.50H451.28V183.50H453.47V183.50H455.66V183.50H457.85V183.50H460.04V183.50H462.23V183.50H464.42V183.50H466.61V183.50H468.80V183.50H470.99V183.50H473.17V183.50H475.36V183.50H477.55V183.50H479.74V183.50H481.93V183.50H484.12V183.50H486.31V183.50H488.50V183.50H490.69V183.50H492.88V183.50H495.07V183.50H497.25V183.50H499.44V183.50H501.63V183.50H503.82V183.50H506.01V183.50H508.20V183.50H510.39V183.50H512.58V183.50H514.77V183.50H516.96V183.50H519.14V183.50H521.33V183.50H523.52V183.50H525.71V183.50H527.90V183.50" fill="none" stroke="#3182BD" stroke-width="1.4" stroke-linejoin="miter"/>
<rect x="154.77" y="171.84" width="2.0" height="2.6" fill="#3182BD" opacity="0.8"/>
<rect x="160.57" y="174.43" width="2.0" height="2.6" fill="#3182BD" opacity="0.8"/>
<rect x="166.37" y="176.39" width="2.0" height="2.6" fill="#3182BD" opacity="0.8"/>
<rect x="172.17" y="177.43" width="2.0" height="2.6" fill="#3182BD" opacity="0.8"/>
<rect x="177.97" y="178.65" width="2.0" height="2.6" fill="#3182BD" opacity="0.8"/>
<rect x="183.77" y="179.57" width="2.0" height="2.6" fill="#3182BD" opacity="0.8"/>
<rect x="189.57" y="180.05" width="2.0" height="2.6" fill="#3182BD" opacity="0.8"/>
<rect x="195.37" y="180.62" width="2.0" height="2.6" fill="#3182BD" opacity="0.8"/>
<rect x="201.17" y="181.03" width="2.0" height="2.6" fill="#3182BD" opacity="0.8"/>
<rect x="206.97" y="181.25" width="2.0" height="2.6" fill="#3182BD" opacity="0.8"/>
<rect x="212.77" y="181.50" width="2.0" height="2.6" fill="#3182BD" opacity="0.8"/>
<rect x="218.57" y="181.69" width="2.0" height="2.6" fill="#3182BD" opacity="0.8"/>
<rect x="224.37" y="181.79" width="2.0" height="2.6" fill="#3182BD" opacity="0.8"/>
<rect x="230.17" y="181.90" width="2.0" height="2.6" fill="#3182BD" opacity="0.8"/>
<rect x="235.97" y="181.98" width="2.0" height="2.6" fill="#3182BD" opacity="0.8"/>
<rect x="241.77" y="182.02" width="2.0" height="2.6" fill="#3182BD" opacity="0.8"/>
<rect x="247.57" y="182.07" width="2.0" height="2.6" fill="#3182BD" opacity="0.8"/>
<rect x="253.37" y="182.11" width="2.0" height="2.6" fill="#3182BD" opacity="0.8"/>
<rect x="259.17" y="182.12" width="2.0" height="2.6" fill="#3182BD" opacity="0.8"/>
<rect x="264.97" y="182.14" width="2.0" height="2.6" fill="#3182BD" opacity="0.8"/>
<rect x="270.77" y="182.15" width="2.0" height="2.6" fill="#3182BD" opacity="0.8"/>
<rect x="276.57" y="182.17" width="2.0" height="2.6" fill="#3182BD" opacity="0.8"/>
<rect x="282.37" y="182.17" width="2.0" height="2.6" fill="#3182BD" opacity="0.8"/>
<rect x="288.17" y="182.18" width="2.0" height="2.6" fill="#3182BD" opacity="0.8"/>
<rect x="293.97" y="182.18" width="2.0" height="2.6" fill="#3182BD" opacity="0.8"/>
<rect x="299.77" y="182.19" width="2.0" height="2.6" fill="#3182BD" opacity="0.8"/>
<rect x="305.57" y="182.19" width="2.0" height="2.6" fill="#3182BD" opacity="0.8"/>
<rect x="311.37" y="182.19" width="2.0" height="2.6" fill="#3182BD" opacity="0.8"/>
<rect x="317.17" y="182.19" width="2.0" height="2.6" fill="#3182BD" opacity="0.8"/>
<rect x="322.97" y="182.19" width="2.0" height="2.6" fill="#3182BD" opacity="0.8"/>
<rect x="328.77" y="182.19" width="2.0" height="2.6" fill="#3182BD" opacity="0.8"/>
<rect x="334.57" y="182.20" width="2.0" height="2.6" fill="#3182BD" opacity="0.8"/>
<rect x="340.37" y="182.20" width="2.0" height="2.6" fill="#3182BD" opacity="0.8"/>
<rect x="346.17" y="182.20" width="2.0" height="2.6" fill="#3182BD" opacity="0.8"/>
<rect x="351.97" y="182.20" width="2.0" height="2.6" fill="#3182BD" opacity="0.8"/>
<rect x="357.77" y="182.20" width="2.0" height="2.6" fill="#3182BD" opacity="0.8"/>
<rect x="363.57" y="182.20" width="2.0" height="2.6" fill="#3182BD" opacity="0.8"/>
<rect x="369.37" y="182.20" width="2.0" height="2.6" fill="#3182BD" opacity="0.8"/>
<rect x="375.17" y="182.20" width="2.0" height="2.6" fill="#3182BD" opacity="0.8"/>
<rect x="380.97" y="182.20" width="2.0" height="2.6" fill="#3182BD" opacity="0.8"/>
<rect x="386.77" y="182.20" width="2.0" height="2.6" fill="#3182BD" opacity="0.8"/>
<rect x="392.57" y="182.20" width="2.0" height="2.6" fill="#3182BD" opacity="0.8"/>
<rect x="398.37" y="182.20" width="2.0" height="2.6" fill="#3182BD" opacity="0.8"/>
<rect x="404.17" y="182.20" width="2.0" height="2.6" fill="#3182BD" opacity="0.8"/>
<rect x="409.97" y="182.20" width="2.0" height="2.6" fill="#3182BD" opacity="0.8"/>
<rect x="415.77" y="182.20" width="2.0" height="2.6" fill="#3182BD" opacity="0.8"/>
<rect x="421.57" y="182.20" width="2.0" height="2.6" fill="#3182BD" opacity="0.8"/>
<rect x="427.37" y="182.20" width="2.0" height="2.6" fill="#3182BD" opacity="0.8"/>
<rect x="433.17" y="182.20" width="2.0" height="2.6" fill="#3182BD" opacity="0.8"/>
<rect x="438.97" y="182.20" width="2.0" height="2.6" fill="#3182BD" opacity="0.8"/>
<rect x="444.77" y="182.20" width="2.0" height="2.6" fill="#3182BD" opacity="0.8"/>
<rect x="450.57" y="182.20" width="2.0" height="2.6" fill="#3182BD" opacity="0.8"/>
<rect x="456.37" y="182.20" width="2.0" height="2.6" fill="#3182BD" opacity="0.8"/>
<rect x="462.17" y="182.20" width="2.0" height="2.6" fill="#3182BD" opacity="0.8"/>
<rect x="467.97" y="182.20" width="2.0" height="2.6" fill="#3182BD" opacity="0.8"/>
<rect x="473.77" y="182.20" width="2.0" height="2.6" fill="#3182BD" opacity="0.8"/>
<rect x="479.57" y="182.20" width="2.0" height="2.6" fill="#3182BD" opacity="0.8"/>
<rect x="485.37" y="182.20" width="2.0" height="2.6" fill="#3182BD" opacity="0.8"/>
<rect x="491.17" y="182.20" width="2.0" height="2.6" fill="#3182BD" opacity="0.8"/>
<rect x="496.97" y="182.20" width="2.0" height="2.6" fill="#3182BD" opacity="0.8"/>
<rect x="502.77" y="182.20" width="2.0" height="2.6" fill="#3182BD" opacity="0.8"/>
<rect x="508.57" y="182.20" width="2.0" height="2.6" fill="#3182BD" opacity="0.8"/>
<rect x="514.37" y="182.20" width="2.0" height="2.6" fill="#3182BD" opacity="0.8"/>
<rect x="520.17" y="182.20" width="2.0" height="2.6" fill="#3182BD" opacity="0.8"/>
<path d="M525.40,183.50H530.40M527.90,181.00V186.00" stroke="#3182BD" stroke-width="1.2" fill="none"/>
<path d="M90.10,30.70H92.29V39.94H94.48V51.64H96.67V63.86H98.86V76.00H101.04V87.73H103.23V98.89H105.42V109.37H107.61V119.12H109.80V128.14H111.99V136.42H114.18V144.00H116.37V150.91H118.56V157.18H120.75V162.87H122.94V168.01H125.12V172.65H127.31V176.84H129.50V180.61H131.69V184.01H133.88V187.08H136.07V189.84H138.26V192.33H140.45V194.58H142.64V196.61H144.82V198.45H147.01V200.12H149.20V201.63H151.39V203.01H153.58V204.27H155.77V205.41H157.96V206.47H160.15V207.43H162.34V208.32H164.53V209.14H166.72V209.90H168.90V210.60H171.09V211.26H173.28V211.86H175.47V212.43H177.66V212.96H179.85V213.45H182.04V213.92H184.23V214.35H186.42V214.76H188.60V215.15H190.79V215.51H192.98V215.86H195.17V216.18H197.36V216.49H199.55V216.78H201.74V217.05H203.93V217.31H206.12V217.56H208.31V217.79H210.50V218.01H212.68V218.22H214.87V218.42H217.06V218.61H219.25V218.78H221.44V218.95H223.63V219.11H225.82V219.27H228.01V219.41H230.20V219.55H232.38V219.68H234.57V219.80H236.76V219.92H238.95V220.03H241.14V220.14H243.33V220.24H245.52V220.34H247.71V220.43H249.90V220.51H252.09V220.59H254.28V220.67H256.46V220.74H258.65V220.81H260.84V220.88H263.03V220.94H265.22V221.00H267.41V221.06H269.60V221.11H271.79V221.16H273.98V221.21H276.16V221.26H278.35V221.30H280.54V221.34H282.73V221.38H284.92V221.41H287.11V221.45H289.30V221.48H291.49V221.51H293.68V221.54H295.87V221.57H298.06V221.60H300.24V221.62H302.43V221.65H304.62V221.67H306.81V221.69H309.00V221.71H311.19V221.73H313.38V221.75H315.57V221.76H317.76V221.78H319.94V221.80H322.13V221.81H324.32V221.82H326.51V221.84H328.70V221.85H330.89V221.86H333.08V221.87H335.27V221.88H337.46V221.89H339.65V221.90H341.84V221.91H344.02V221.92H346.21V221.93H348.40V221.93H350.59V221.94H352.78V221.95H354.97V221.95H357.16V221.96H359.35V221.97H361.54V221.97H363.73V221.98H365.91V221.98H368.10V221.99H370.29V221.99H372.48V221.99H374.67V222.00H376.86V222.00H379.05V222.00H381.24V222.01H383.43V222.01H385.62V222.01H387.80V222.02H389.99V222.02H392.18V222.02H394.37V222.02H396.56V222.03H398.75V222.03H400.94V222.03H403.13V222.03H405.32V222.03H407.50V222.03H409.69V222.04H411.88V222.04H414.07V222.04H416.26V222.04H418.45V222.04H420.64V222.04H422.83V222.04H425.02V222.04H427.21V222.05H429.39V222.05H431.58V222.05H433.77V222.05H435.96V222.05H438.15V222.05H440.34V222.05H442.53V222.05H444.72V222.05H446.91V222.05H449.10V222.05H451.28V222.05H453.47V222.05H455.66V222.05H457.85V222.05H460.04V222.05H462.23V222.06H464.42V222.06H466.61V222.06H468.80V222.06H470.99V222.06H473.17V222.06H475.36V222.06H477.55V222.06H479.74V222.06H481.93V222.06H484.12V222.06H486.31V222.06H488.50V222.06H490.69V222.06H492.88V222.06H495.07V222.06H497.25V222.06H499.44V222.06H501.63V222.06H503.82V222.06H506.01V222.06H508.20V222.06H510.39V222.06H512.58V222.06H514.77V222.06H516.96V222.06H519.14V222.06H521.33V222.06H523.52V222.06H525.71V222.06H527.90V222.06" fill="none" stroke="#08519C" stroke-width="1.4" stroke-linejoin="miter"/>
<rect x="154.77" y="202.97" width="2.0" height="2.6" fill="#08519C" opacity="0.8"/>
<rect x="160.57" y="206.13" width="2.0" height="2.6" fill="#08519C" opacity="0.8"/>
<rect x="166.37" y="208.60" width="2.0" height="2.6" fill="#08519C" opacity="0.8"/>
<rect x="172.17" y="209.96" width="2.0" height="2.6" fill="#08519C" opacity="0.8"/>
<rect x="177.97" y="211.66" width="2.0" height="2.6" fill="#08519C" opacity="0.8"/>
<rect x="183.77" y="213.05" width="2.0" height="2.6" fill="#08519C" opacity="0.8"/>
<rect x="189.57" y="213.85" width="2.0" height="2.6" fill="#08519C" opacity="0.8"/>
<rect x="195.37" y="214.88" width="2.0" height="2.6" fill="#08519C" opacity="0.8"/>
<rect x="201.17" y="215.75" width="2.0" height="2.6" fill="#08519C" opacity="0.8"/>
<rect x="206.97" y="216.26" width="2.0" height="2.6" fill="#08519C" opacity="0.8"/>
<rect x="212.77" y="216.92" width="2.0" height="2.6" fill="#08519C" opacity="0.8"/>
<rect x="218.57" y="217.48" width="2.0" height="2.6" fill="#08519C" opacity="0.8"/>
<rect x="224.37" y="217.81" width="2.0" height="2.6" fill="#08519C" opacity="0.8"/>
<rect x="230.17" y="218.25" width="2.0" height="2.6" fill="#08519C" opacity="0.8"/>
<rect x="235.97" y="218.62" width="2.0" height="2.6" fill="#08519C" opacity="0.8"/>
<rect x="241.77" y="218.84" width="2.0" height="2.6" fill="#08519C" opacity="0.8"/>
<rect x="247.57" y="219.13" width="2.0" height="2.6" fill="#08519C" opacity="0.8"/>
<rect x="253.37" y="219.37" width="2.0" height="2.6" fill="#08519C" opacity="0.8"/>
<rect x="259.17" y="219.51" width="2.0" height="2.6" fill="#08519C" opacity="0.8"/>
<rect x="264.97" y="219.70" width="2.0" height="2.6" fill="#08519C" opacity="0.8"/>
<rect x="270.77" y="219.81" width="2.0" height="2.6" fill="#08519C" opacity="0.8"/>
<rect x="276.57" y="219.96" width="2.0" height="2.6" fill="#08519C" opacity="0.8"/>
<rect x="282.37" y="220.08" width="2.0" height="2.6" fill="#08519C" opacity="0.8"/>
<rect x="288.17" y="220.15" width="2.0" height="2.6" fill="#08519C" opacity="0.8"/>
<rect x="293.97" y="220.24" width="2.0" height="2.6" fill="#08519C" opacity="0.8"/>
<rect x="299.77" y="220.32" width="2.0" height="2.6" fill="#08519C" opacity="0.8"/>
<rect x="305.57" y="220.37" width="2.0" height="2.6" fill="#08519C" opacity="0.8"/>
<rect x="311.37" y="220.43" width="2.0" height="2.6" fill="#08519C" opacity="0.8"/>
<rect x="317.17" y="220.48" width="2.0" height="2.6" fill="#08519C" opacity="0.8"/>
<rect x="322.97" y="220.51" width="2.0" height="2.6" fill="#08519C" opacity="0.8"/>
<rect x="328.77" y="220.55" width="2.0" height="2.6" fill="#08519C" opacity="0.8"/>
<rect x="334.57" y="220.58" width="2.0" height="2.6" fill="#08519C" opacity="0.8"/>
<rect x="340.37" y="220.60" width="2.0" height="2.6" fill="#08519C" opacity="0.8"/>
<rect x="346.17" y="220.63" width="2.0" height="2.6" fill="#08519C" opacity="0.8"/>
<rect x="351.97" y="220.65" width="2.0" height="2.6" fill="#08519C" opacity="0.8"/>
<rect x="357.77" y="220.66" width="2.0" height="2.6" fill="#08519C" opacity="0.8"/>
<rect x="363.57" y="220.68" width="2.0" height="2.6" fill="#08519C" opacity="0.8"/>
<rect x="369.37" y="220.69" width="2.0" height="2.6" fill="#08519C" opacity="0.8"/>
<rect x="375.17" y="220.70" width="2.0" height="2.6" fill="#08519C" opacity="0.8"/>
<rect x="380.97" y="220.71" width="2.0" height="2.6" fill="#08519C" opacity="0.8"/>
<rect x="386.77" y="220.71" width="2.0" height="2.6" fill="#08519C" opacity="0.8"/>
<rect x="392.57" y="220.72" width="2.0" height="2.6" fill="#08519C" opacity="0.8"/>
<rect x="398.37" y="220.73" width="2.0" height="2.6" fill="#08519C" opacity="0.8"/>
<rect x="404.17" y="220.73" width="2.0" height="2.6" fill="#08519C" opacity="0.8"/>
<rect x="409.97" y="220.74" width="2.0" height="2.6" fill="#08519C" opacity="0.8"/>
<rect x="415.77" y="220.74" width="2.0" height="2.6" fill="#08519C" opacity="0.8"/>
<rect x="421.57" y="220.74" width="2.0" height="2.6" fill="#08519C" opacity="0.8"/>
<rect x="427.37" y="220.75" width="2.0" height="2.6" fill="#08519C" opacity="0.8"/>
<rect x="433.17" y="220.75" width="2.0" height="2.6" fill="#08519C" opacity="0.8"/>
<rect x="438.97" y="220.75" width="2.0" height="2.6" fill="#08519C" opacity="0.8"/>
<rect x="444.77" y="220.75" width="2.0" height="2.6" fill="#08519C" opacity="0.8"/>
<rect x="450.57" y="220.75" width="2.0" height="2.6" fill="#08519C" opacity="0.8"/>
<rect x="456.37" y="220.75" width="2.0" height="2.6" fill="#08519C" opacity="0.8"/>
<rect x="462.17" y="220.76" width="2.0" height="2.6" fill="#08519C" opacity="0.8"/>
<rect x="467.97" y="220.76" width="2.0" height="2.6" fill="#08519C" opacity="0.8"/>
<rect x="473.77" y="220.76" width="2.0" height="2.6" fill="#08519C" opacity="0.8"/>
<rect x="479.57" y="220.76" width="2.0" height="2.6" fill="#08519C" opacity="0.8"/>
<rect x="485.37" y="220.76" width="2.0" height="2.6" fill="#08519C" opacity="0.8"/>
<rect x="491.17" y="220.76" width="2.0" height="2.6" fill="#08519C" opacity="0.8"/>
<rect x="496.97" y="220.76" width="2.0" height="2.6" fill="#08519C" opacity="0.8"/>
<rect x="502.77" y="220.76" width="2.0" height="2.6" fill="#08519C" opacity="0.8"/>
<rect x="508.57" y="220.76" width="2.0" height="2.6" fill="#08519C" opacity="0.8"/>
<rect x="514.37" y="220.76" width="2.0" height="2.6" fill="#08519C" opacity="0.8"/>
<rect x="520.17" y="220.76" width="2.0" height="2.6" fill="#08519C" opacity="0.8"/>
<path d="M525.40,222.06H530.40M527.90,219.56V224.56" stroke="#08519C" stroke-width="1.2" fill="none"/>
<line x1="68.50" y1="18.60" x2="68.50" y2="279.05" stroke="#2a2a2a" stroke-width="1.1"/>
<line x1="67.95" y1="278.50" x2="549.50" y2="278.50" stroke="#2a2a2a" stroke-width="1.1"/>
<line x1="66.00" y1="30.70" x2="68.50" y2="30.70" stroke="#333" stroke-width="0.9"/>
<text x="64.30" y="33.50" font-size="8.1" text-anchor="end" fill="#222" font-weight="normal" font-family='"Liberation Sans", sans-serif' >100%</text>
<line x1="66.00" y1="77.92" x2="68.50" y2="77.92" stroke="#333" stroke-width="0.9"/>
<text x="64.30" y="80.72" font-size="8.1" text-anchor="end" fill="#222" font-weight="normal" font-family='"Liberation Sans", sans-serif' >90%</text>
<line x1="66.00" y1="125.14" x2="68.50" y2="125.14" stroke="#333" stroke-width="0.9"/>
<text x="64.30" y="127.94" font-size="8.1" text-anchor="end" fill="#222" font-weight="normal" font-family='"Liberation Sans", sans-serif' >80%</text>
<line x1="66.00" y1="172.36" x2="68.50" y2="172.36" stroke="#333" stroke-width="0.9"/>
<text x="64.30" y="175.16" font-size="8.1" text-anchor="end" fill="#222" font-weight="normal" font-family='"Liberation Sans", sans-serif' >70%</text>
<line x1="66.00" y1="219.58" x2="68.50" y2="219.58" stroke="#333" stroke-width="0.9"/>
<text x="64.30" y="222.38" font-size="8.1" text-anchor="end" fill="#222" font-weight="normal" font-family='"Liberation Sans", sans-serif' >60%</text>
<line x1="66.00" y1="266.80" x2="68.50" y2="266.80" stroke="#333" stroke-width="0.9"/>
<text x="64.30" y="269.60" font-size="8.1" text-anchor="end" fill="#222" font-weight="normal" font-family='"Liberation Sans", sans-serif' >50%</text>
<line x1="90.10" y1="278.50" x2="90.10" y2="280.80" stroke="#333" stroke-width="0.9"/>
<text x="90.10" y="288.30" font-size="8.1" text-anchor="middle" fill="#222" font-weight="normal" font-family='"Liberation Sans", sans-serif' >0</text>
<line x1="157.96" y1="278.50" x2="157.96" y2="280.80" stroke="#333" stroke-width="0.9"/>
<text x="157.96" y="288.30" font-size="8.1" text-anchor="middle" fill="#222" font-weight="normal" font-family='"Liberation Sans", sans-serif' >31</text>
<line x1="225.82" y1="278.50" x2="225.82" y2="280.80" stroke="#333" stroke-width="0.9"/>
<text x="225.82" y="288.30" font-size="8.1" text-anchor="middle" fill="#222" font-weight="normal" font-family='"Liberation Sans", sans-serif' >62</text>
<line x1="293.68" y1="278.50" x2="293.68" y2="280.80" stroke="#333" stroke-width="0.9"/>
<text x="293.68" y="288.30" font-size="8.1" text-anchor="middle" fill="#222" font-weight="normal" font-family='"Liberation Sans", sans-serif' >93</text>
<line x1="361.54" y1="278.50" x2="361.54" y2="280.80" stroke="#333" stroke-width="0.9"/>
<text x="361.54" y="288.30" font-size="8.1" text-anchor="middle" fill="#222" font-weight="normal" font-family='"Liberation Sans", sans-serif' >124</text>
<line x1="429.39" y1="278.50" x2="429.39" y2="280.80" stroke="#333" stroke-width="0.9"/>
<text x="429.39" y="288.30" font-size="8.1" text-anchor="middle" fill="#222" font-weight="normal" font-family='"Liberation Sans", sans-serif' >155</text>
<line x1="497.25" y1="278.50" x2="497.25" y2="280.80" stroke="#333" stroke-width="0.9"/>
<text x="497.25" y="288.30" font-size="8.1" text-anchor="middle" fill="#222" font-weight="normal" font-family='"Liberation Sans", sans-serif' >186</text>
<text x="309.00" y="299.00" font-size="9.85" text-anchor="middle" fill="#000" font-weight="normal" font-family='"Liberation Sans", sans-serif' >Days After Admission</text>
<text transform="translate(11.30,148.55) rotate(-90) scale(1,1.0)" font-size="9.8" text-anchor="middle" font-family='"Liberation Sans", sans-serif' fill="#000">Survival</text>
<text x="618.10" y="174.40" font-size="6.7" text-anchor="start" fill="#000" font-weight="normal" font-family='"Liberation Sans", sans-serif' >Age</text>
<line x1="619.20" y1="184.50" x2="628.80" y2="184.50" stroke="#EFF3FF" stroke-width="1.4"/>
<line x1="623.70" y1="182.00" x2="623.70" y2="187.00" stroke="#EFF3FF" stroke-width="1.0"/>
<text x="633.30" y="186.90" font-size="6.85" text-anchor="start" fill="#000" font-weight="normal" font-family='"Liberation Sans", sans-serif' >less than 20</text>
<line x1="619.20" y1="196.53" x2="628.80" y2="196.53" stroke="#BDD7E7" stroke-width="1.4"/>
<line x1="623.70" y1="194.03" x2="623.70" y2="199.03" stroke="#BDD7E7" stroke-width="1.0"/>
<text x="633.30" y="198.93" font-size="6.85" text-anchor="start" fill="#000" font-weight="normal" font-family='"Liberation Sans", sans-serif' >20-40</text>
<line x1="619.20" y1="208.56" x2="628.80" y2="208.56" stroke="#6BAED6" stroke-width="1.4"/>
<line x1="623.70" y1="206.06" x2="623.70" y2="211.06" stroke="#6BAED6" stroke-width="1.0"/>
<text x="633.30" y="210.96" font-size="6.85" text-anchor="start" fill="#000" font-weight="normal" font-family='"Liberation Sans", sans-serif' >40-60</text>
<line x1="619.20" y1="220.59" x2="628.80" y2="220.59" stroke="#3182BD" stroke-width="1.4"/>
<line x1="623.70" y1="218.09" x2="623.70" y2="223.09" stroke="#3182BD" stroke-width="1.0"/>
<text x="633.30" y="222.99" font-size="6.85" text-anchor="start" fill="#000" font-weight="normal" font-family='"Liberation Sans", sans-serif' >60-80</text>
<line x1="619.20" y1="232.62" x2="628.80" y2="232.62" stroke="#08519C" stroke-width="1.4"/>
<line x1="623.70" y1="230.12" x2="623.70" y2="235.12" stroke="#08519C" stroke-width="1.0"/>
<text x="633.30" y="235.02" font-size="6.85" text-anchor="start" fill="#000" font-weight="normal" font-family='"Liberation Sans", sans-serif' >more than 80</text>
<text x="68.50" y="317.30" font-size="11.05" text-anchor="start" fill="#000" font-weight="normal" font-family='"Liberation Sans", sans-serif' >Number at risk</text>
<line x1="68.50" y1="324.30" x2="68.50" y2="381.05" stroke="#2a2a2a" stroke-width="1.1"/>
<line x1="67.95" y1="380.50" x2="549.50" y2="380.50" stroke="#2a2a2a" stroke-width="1.1"/>
<line x1="66.00" y1="330.50" x2="68.50" y2="330.50" stroke="#333" stroke-width="0.9"/>
<text x="64.30" y="333.40" font-size="8.2" text-anchor="end" fill="#EFF3FF" font-weight="normal" font-family='"Liberation Sans", sans-serif' >less than 20</text>
<text x="90.10" y="333.60" font-size="8.8" text-anchor="middle" fill="#000" font-weight="normal" font-family='"Liberation Sans", sans-serif' >32759</text>
<text x="157.96" y="333.60" font-size="8.8" text-anchor="middle" fill="#000" font-weight="normal" font-family='"Liberation Sans", sans-serif' >31935</text>
<text x="225.82" y="333.60" font-size="8.8" text-anchor="middle" fill="#000" font-weight="normal" font-family='"Liberation Sans", sans-serif' >31892</text>
<text x="293.68" y="333.60" font-size="8.8" text-anchor="middle" fill="#000" font-weight="normal" font-family='"Liberation Sans", sans-serif' >31878</text>
<text x="361.54" y="333.60" font-size="8.8" text-anchor="middle" fill="#000" font-weight="normal" font-family='"Liberation Sans", sans-serif' >31876</text>
<text x="429.39" y="333.60" font-size="8.8" text-anchor="middle" fill="#000" font-weight="normal" font-family='"Liberation Sans", sans-serif' >31876</text>
<text x="497.25" y="333.60" font-size="8.8" text-anchor="middle" fill="#000" font-weight="normal" font-family='"Liberation Sans", sans-serif' >31874</text>
<line x1="66.00" y1="341.30" x2="68.50" y2="341.30" stroke="#333" stroke-width="0.9"/>
<text x="64.30" y="344.20" font-size="8.2" text-anchor="end" fill="#BDD7E7" font-weight="normal" font-family='"Liberation Sans", sans-serif' >20-40</text>
<text x="90.10" y="344.40" font-size="8.8" text-anchor="middle" fill="#000" font-weight="normal" font-family='"Liberation Sans", sans-serif' >120613</text>
<text x="157.96" y="344.40" font-size="8.8" text-anchor="middle" fill="#000" font-weight="normal" font-family='"Liberation Sans", sans-serif' >113032</text>
<text x="225.82" y="344.40" font-size="8.8" text-anchor="middle" fill="#000" font-weight="normal" font-family='"Liberation Sans", sans-serif' >112635</text>
<text x="293.68" y="344.40" font-size="8.8" text-anchor="middle" fill="#000" font-weight="normal" font-family='"Liberation Sans", sans-serif' >112584</text>
<text x="361.54" y="344.40" font-size="8.8" text-anchor="middle" fill="#000" font-weight="normal" font-family='"Liberation Sans", sans-serif' >112562</text>
<text x="429.39" y="344.40" font-size="8.8" text-anchor="middle" fill="#000" font-weight="normal" font-family='"Liberation Sans", sans-serif' >112559</text>
<text x="497.25" y="344.40" font-size="8.8" text-anchor="middle" fill="#000" font-weight="normal" font-family='"Liberation Sans", sans-serif' >112555</text>
<line x1="66.00" y1="352.10" x2="68.50" y2="352.10" stroke="#333" stroke-width="0.9"/>
<text x="64.30" y="355.00" font-size="8.2" text-anchor="end" fill="#6BAED6" font-weight="normal" font-family='"Liberation Sans", sans-serif' >40-60</text>
<text x="90.10" y="355.20" font-size="8.8" text-anchor="middle" fill="#000" font-weight="normal" font-family='"Liberation Sans", sans-serif' >220782</text>
<text x="157.96" y="355.20" font-size="8.8" text-anchor="middle" fill="#000" font-weight="normal" font-family='"Liberation Sans", sans-serif' >185200</text>
<text x="225.82" y="355.20" font-size="8.8" text-anchor="middle" fill="#000" font-weight="normal" font-family='"Liberation Sans", sans-serif' >183024</text>
<text x="293.68" y="355.20" font-size="8.8" text-anchor="middle" fill="#000" font-weight="normal" font-family='"Liberation Sans", sans-serif' >182789</text>
<text x="361.54" y="355.20" font-size="8.8" text-anchor="middle" fill="#000" font-weight="normal" font-family='"Liberation Sans", sans-serif' >182721</text>
<text x="429.39" y="355.20" font-size="8.8" text-anchor="middle" fill="#000" font-weight="normal" font-family='"Liberation Sans", sans-serif' >182701</text>
<text x="497.25" y="355.20" font-size="8.8" text-anchor="middle" fill="#000" font-weight="normal" font-family='"Liberation Sans", sans-serif' >182672</text>
<line x1="66.00" y1="362.90" x2="68.50" y2="362.90" stroke="#333" stroke-width="0.9"/>
<text x="64.30" y="365.80" font-size="8.2" text-anchor="end" fill="#3182BD" font-weight="normal" font-family='"Liberation Sans", sans-serif' >60-80</text>
<text x="90.10" y="366.00" font-size="8.8" text-anchor="middle" fill="#000" font-weight="normal" font-family='"Liberation Sans", sans-serif' >224053</text>
<text x="157.96" y="366.00" font-size="8.8" text-anchor="middle" fill="#000" font-weight="normal" font-family='"Liberation Sans", sans-serif' >156023</text>
<text x="225.82" y="366.00" font-size="8.8" text-anchor="middle" fill="#000" font-weight="normal" font-family='"Liberation Sans", sans-serif' >152233</text>
<text x="293.68" y="366.00" font-size="8.8" text-anchor="middle" fill="#000" font-weight="normal" font-family='"Liberation Sans", sans-serif' >151780</text>
<text x="361.54" y="366.00" font-size="8.8" text-anchor="middle" fill="#000" font-weight="normal" font-family='"Liberation Sans", sans-serif' >151652</text>
<text x="429.39" y="366.00" font-size="8.8" text-anchor="middle" fill="#000" font-weight="normal" font-family='"Liberation Sans", sans-serif' >151577</text>
<text x="497.25" y="366.00" font-size="8.8" text-anchor="middle" fill="#000" font-weight="normal" font-family='"Liberation Sans", sans-serif' >151553</text>
<line x1="66.00" y1="373.70" x2="68.50" y2="373.70" stroke="#333" stroke-width="0.9"/>
<text x="64.30" y="376.60" font-size="8.2" text-anchor="end" fill="#08519C" font-weight="normal" font-family='"Liberation Sans", sans-serif' >more than 80</text>
<text x="90.10" y="376.80" font-size="8.8" text-anchor="middle" fill="#000" font-weight="normal" font-family='"Liberation Sans", sans-serif' >100485</text>
<text x="157.96" y="376.80" font-size="8.8" text-anchor="middle" fill="#000" font-weight="normal" font-family='"Liberation Sans", sans-serif' >63228</text>
<text x="225.82" y="376.80" font-size="8.8" text-anchor="middle" fill="#000" font-weight="normal" font-family='"Liberation Sans", sans-serif' >60316</text>
<text x="293.68" y="376.80" font-size="8.8" text-anchor="middle" fill="#000" font-weight="normal" font-family='"Liberation Sans", sans-serif' >59943</text>
<text x="361.54" y="376.80" font-size="8.8" text-anchor="middle" fill="#000" font-weight="normal" font-family='"Liberation Sans", sans-serif' >59835</text>
<text x="429.39" y="376.80" font-size="8.8" text-anchor="middle" fill="#000" font-weight="normal" font-family='"Liberation Sans", sans-serif' >59793</text>
<text x="497.25" y="376.80" font-size="8.8" text-anchor="middle" fill="#000" font-weight="normal" font-family='"Liberation Sans", sans-serif' >59763</text>
<line x1="90.10" y1="380.50" x2="90.10" y2="382.80" stroke="#333" stroke-width="0.9"/>
<text x="90.10" y="389.50" font-size="8.1" text-anchor="middle" fill="#222" font-weight="normal" font-family='"Liberation Sans", sans-serif' >0</text>
<line x1="157.96" y1="380.50" x2="157.96" y2="382.80" stroke="#333" stroke-width="0.9"/>
<text x="157.96" y="389.50" font-size="8.1" text-anchor="middle" fill="#222" font-weight="normal" font-family='"Liberation Sans", sans-serif' >31</text>
<line x1="225.82" y1="380.50" x2="225.82" y2="382.80" stroke="#333" stroke-width="0.9"/>
<text x="225.82" y="389.50" font-size="8.1" text-anchor="middle" fill="#222" font-weight="normal" font-family='"Liberation Sans", sans-serif' >62</text>
<line x1="293.68" y1="380.50" x2="293.68" y2="382.80" stroke="#333" stroke-width="0.9"/>
<text x="293.68" y="389.50" font-size="8.1" text-anchor="middle" fill="#222" font-weight="normal" font-family='"Liberation Sans", sans-serif' >93</text>
<line x1="361.54" y1="380.50" x2="361.54" y2="382.80" stroke="#333" stroke-width="0.9"/>
<text x="361.54" y="389.50" font-size="8.1" text-anchor="middle" fill="#222" font-weight="normal" font-family='"Liberation Sans", sans-serif' >124</text>
<line x1="429.39" y1="380.50" x2="429.39" y2="382.80" stroke="#333" stroke-width="0.9"/>
<text x="429.39" y="389.50" font-size="8.1" text-anchor="middle" fill="#222" font-weight="normal" font-family='"Liberation Sans", sans-serif' >155</text>
<line x1="497.25" y1="380.50" x2="497.25" y2="382.80" stroke="#333" stroke-width="0.9"/>
<text x="497.25" y="389.50" font-size="8.1" text-anchor="middle" fill="#222" font-weight="normal" font-family='"Liberation Sans", sans-serif' >186</text>
<text x="309.00" y="401.00" font-size="9.85" text-anchor="middle" fill="#000" font-weight="normal" font-family='"Liberation Sans", sans-serif' >Days After Admission</text>
<text transform="translate(11.20,352.40) rotate(-90) scale(1,1.0)" font-size="10.3" text-anchor="middle" font-family='"Liberation Sans", sans-serif' fill="#000">Age</text>
<text x="342.5" y="433.30" font-size="19.2" text-anchor="middle" fill="#000"><tspan font-family='"Liberation Sans", sans-serif' font-weight="bold">(a)</tspan><tspan font-family='"Liberation Serif", serif'> By Age</tspan></text>
<text x="47.00" y="453.90" font-size="11.0" text-anchor="start" fill="#000" font-weight="normal" font-family='"Liberation Sans", sans-serif' >KM Curve Sex Stratified</text>
<path d="M69.40,472.40H71.69V477.99H73.97V484.64H76.26V491.91H78.55V499.42H80.84V506.82H83.12V513.79H85.41V520.13H87.70V525.72H89.98V530.54H92.27V534.66H94.56V538.16H96.84V541.14H99.13V543.73H101.42V545.99H103.71V548.00H105.99V549.82H108.28V551.47H110.57V552.98H112.85V554.37H115.14V555.65H117.43V556.84H119.71V557.93H122.00V558.94H124.29V559.88H126.58V560.74H128.86V561.54H131.15V562.28H133.44V562.97H135.72V563.60H138.01V564.18H140.30V564.72H142.58V565.22H144.87V565.68H147.16V566.10H149.44V566.49H151.73V566.85H154.02V567.19H156.31V567.49H158.59V567.78H160.88V568.04H163.17V568.28H165.45V568.51H167.74V568.71H170.03V568.90H172.31V569.08H174.60V569.24H176.89V569.39H179.18V569.53H181.46V569.65H183.75V569.77H186.04V569.88H188.32V569.98H190.61V570.07H192.90V570.16H195.19V570.23H197.47V570.31H199.76V570.37H202.05V570.43H204.33V570.49H206.62V570.54H208.91V570.59H211.19V570.63H213.48V570.67H215.77V570.71H218.06V570.75H220.34V570.78H222.63V570.81H224.92V570.83H227.20V570.86H229.49V570.88H231.78V570.90H234.06V570.92H236.35V570.94H238.64V570.96H240.93V570.97H243.21V570.99H245.50V571.00H247.79V571.01H250.07V571.02H252.36V571.03H254.65V571.04H256.93V571.05H259.22V571.06H261.51V571.07H263.79V571.07H266.08V571.08H268.37V571.08H270.66V571.09H272.94V571.09H275.23V571.10H277.52V571.10H279.80V571.11H282.09V571.11H284.38V571.11H286.66V571.12H288.95V571.12H291.24V571.12H293.53V571.12H295.81V571.13H298.10V571.13H300.39V571.13H302.67V571.13H304.96V571.13H307.25V571.13H309.53V571.14H311.82V571.14H314.11V571.14H316.40V571.14H318.68V571.14H320.97V571.14H323.26V571.14H325.54V571.14H327.83V571.14H330.12V571.14H332.40V571.14H334.69V571.14H336.98V571.14H339.27V571.14H341.55V571.15H343.84V571.15H346.13V571.15H348.41V571.15H350.70V571.15H352.99V571.15H355.27V571.15H357.56V571.15H359.85V571.15H362.14V571.15H364.42V571.15H366.71V571.15H369.00V571.15H371.28V571.15H373.57V571.15H375.86V571.15H378.14V571.15H380.43V571.15H382.72V571.15H385.01V571.15H387.29V571.15H389.58V571.15H391.87V571.15H394.15V571.15H396.44V571.15H398.73V571.15H401.01V571.15H403.30V571.15H405.59V571.15H407.88V571.15H410.16V571.15H412.45V571.15H414.74V571.15H417.02V571.15H419.31V571.15H421.60V571.15H423.88V571.15H426.17V571.15H428.46V571.15H430.75V571.15H433.03V571.15H435.32V571.15H437.61V571.15H439.89V571.15H442.18V571.15H444.47V571.15H446.75V571.15H449.04V571.15H451.33V571.15H453.62V571.15H455.90V571.15H458.19V571.15H460.48V571.15H462.76V571.15H465.05V571.15H467.34V571.15H469.62V571.15H471.91V571.15H474.20V571.15H476.49V571.15H478.77V571.15H481.06V571.15H483.35V571.15H485.63V571.15H487.92V571.15H490.21V571.15H492.50V571.15H494.78V571.15H497.07V571.15H499.36V571.15H501.64V571.15H503.93V571.15H506.22V571.15H508.50V571.15H510.79V571.15H513.08V571.15H515.37V571.15H517.65V571.15H519.94V571.15H522.23V571.15H524.51V571.15H526.80V571.15" fill="none" stroke="#DEEBF7" stroke-width="1.4" stroke-linejoin="miter"/>
<path d="M524.30,571.15H529.30M526.80,568.65V573.65" stroke="#DEEBF7" stroke-width="1.2" fill="none"/>
<path d="M69.40,472.40H71.69V478.09H73.97V484.89H76.26V492.06H78.55V499.30H80.84V506.42H83.12V513.28H85.41V519.82H87.70V525.98H89.98V531.72H92.27V537.04H94.56V541.93H96.84V546.40H99.13V550.47H101.42V554.16H103.71V557.50H105.99V560.51H108.28V563.21H110.57V565.64H112.85V567.82H115.14V569.77H117.43V571.52H119.71V573.09H122.00V574.51H124.29V575.77H126.58V576.92H128.86V577.95H131.15V578.88H133.44V579.72H135.72V580.49H138.01V581.18H140.30V581.82H142.58V582.41H144.87V582.94H147.16V583.43H149.44V583.89H151.73V584.31H154.02V584.70H156.31V585.06H158.59V585.40H160.88V585.71H163.17V586.00H165.45V586.28H167.74V586.53H170.03V586.77H172.31V587.00H174.60V587.21H176.89V587.41H179.18V587.59H181.46V587.77H183.75V587.93H186.04V588.09H188.32V588.23H190.61V588.37H192.90V588.50H195.19V588.62H197.47V588.74H199.76V588.84H202.05V588.95H204.33V589.04H206.62V589.13H208.91V589.22H211.19V589.30H213.48V589.37H215.77V589.44H218.06V589.51H220.34V589.58H222.63V589.64H224.92V589.69H227.20V589.75H229.49V589.80H231.78V589.84H234.06V589.89H236.35V589.93H238.64V589.97H240.93V590.01H243.21V590.04H245.50V590.08H247.79V590.11H250.07V590.14H252.36V590.17H254.65V590.19H256.93V590.22H259.22V590.24H261.51V590.26H263.79V590.28H266.08V590.30H268.37V590.32H270.66V590.34H272.94V590.36H275.23V590.37H277.52V590.39H279.80V590.40H282.09V590.41H284.38V590.43H286.66V590.44H288.95V590.45H291.24V590.46H293.53V590.47H295.81V590.48H298.10V590.49H300.39V590.50H302.67V590.50H304.96V590.51H307.25V590.52H309.53V590.52H311.82V590.53H314.11V590.54H316.40V590.54H318.68V590.55H320.97V590.55H323.26V590.56H325.54V590.56H327.83V590.57H330.12V590.57H332.40V590.57H334.69V590.58H336.98V590.58H339.27V590.58H341.55V590.59H343.84V590.59H346.13V590.59H348.41V590.59H350.70V590.60H352.99V590.60H355.27V590.60H357.56V590.60H359.85V590.60H362.14V590.61H364.42V590.61H366.71V590.61H369.00V590.61H371.28V590.61H373.57V590.61H375.86V590.61H378.14V590.62H380.43V590.62H382.72V590.62H385.01V590.62H387.29V590.62H389.58V590.62H391.87V590.62H394.15V590.62H396.44V590.62H398.73V590.62H401.01V590.62H403.30V590.62H405.59V590.62H407.88V590.63H410.16V590.63H412.45V590.63H414.74V590.63H417.02V590.63H419.31V590.63H421.60V590.63H423.88V590.63H426.17V590.63H428.46V590.63H430.75V590.63H433.03V590.63H435.32V590.63H437.61V590.63H439.89V590.63H442.18V590.63H444.47V590.63H446.75V590.63H449.04V590.63H451.33V590.63H453.62V590.63H455.90V590.63H458.19V590.63H460.48V590.63H462.76V590.63H465.05V590.63H467.34V590.63H469.62V590.63H471.91V590.63H474.20V590.63H476.49V590.63H478.77V590.63H481.06V590.63H483.35V590.63H485.63V590.63H487.92V590.63H490.21V590.63H492.50V590.63H494.78V590.63H497.07V590.63H499.36V590.63H501.64V590.63H503.93V590.63H506.22V590.63H508.50V590.63H510.79V590.63H513.08V590.63H515.37V590.63H517.65V590.63H519.94V590.63H522.23V590.63H524.51V590.63H526.80V590.63" fill="none" stroke="#9ECAE1" stroke-width="1.4" stroke-linejoin="miter"/>
<rect x="137.01" y="579.19" width="2.0" height="2.6" fill="#9ECAE1" opacity="0.8"/>
<rect x="142.81" y="581.11" width="2.0" height="2.6" fill="#9ECAE1" opacity="0.8"/>
<rect x="148.61" y="582.59" width="2.0" height="2.6" fill="#9ECAE1" opacity="0.8"/>
<rect x="154.41" y="583.40" width="2.0" height="2.6" fill="#9ECAE1" opacity="0.8"/>
<rect x="160.21" y="584.41" width="2.0" height="2.6" fill="#9ECAE1" opacity="0.8"/>
<rect x="166.01" y="584.98" width="2.0" height="2.6" fill="#9ECAE1" opacity="0.8"/>
<rect x="171.81" y="585.70" width="2.0" height="2.6" fill="#9ECAE1" opacity="0.8"/>
<rect x="177.61" y="586.11" width="2.0" height="2.6" fill="#9ECAE1" opacity="0.8"/>
<rect x="183.41" y="586.63" width="2.0" height="2.6" fill="#9ECAE1" opacity="0.8"/>
<rect x="189.21" y="586.93" width="2.0" height="2.6" fill="#9ECAE1" opacity="0.8"/>
<rect x="195.01" y="587.32" width="2.0" height="2.6" fill="#9ECAE1" opacity="0.8"/>
<rect x="200.81" y="587.54" width="2.0" height="2.6" fill="#9ECAE1" opacity="0.8"/>
<rect x="206.61" y="587.83" width="2.0" height="2.6" fill="#9ECAE1" opacity="0.8"/>
<rect x="212.41" y="588.00" width="2.0" height="2.6" fill="#9ECAE1" opacity="0.8"/>
<rect x="218.21" y="588.21" width="2.0" height="2.6" fill="#9ECAE1" opacity="0.8"/>
<rect x="224.01" y="588.39" width="2.0" height="2.6" fill="#9ECAE1" opacity="0.8"/>
<rect x="229.81" y="588.50" width="2.0" height="2.6" fill="#9ECAE1" opacity="0.8"/>
<rect x="235.61" y="588.63" width="2.0" height="2.6" fill="#9ECAE1" opacity="0.8"/>
<rect x="241.41" y="588.71" width="2.0" height="2.6" fill="#9ECAE1" opacity="0.8"/>
<rect x="247.21" y="588.81" width="2.0" height="2.6" fill="#9ECAE1" opacity="0.8"/>
<rect x="253.01" y="588.87" width="2.0" height="2.6" fill="#9ECAE1" opacity="0.8"/>
<rect x="258.81" y="588.94" width="2.0" height="2.6" fill="#9ECAE1" opacity="0.8"/>
<rect x="264.61" y="588.98" width="2.0" height="2.6" fill="#9ECAE1" opacity="0.8"/>
<rect x="270.41" y="589.04" width="2.0" height="2.6" fill="#9ECAE1" opacity="0.8"/>
<rect x="276.21" y="589.07" width="2.0" height="2.6" fill="#9ECAE1" opacity="0.8"/>
<rect x="282.01" y="589.11" width="2.0" height="2.6" fill="#9ECAE1" opacity="0.8"/>
<rect x="287.81" y="589.14" width="2.0" height="2.6" fill="#9ECAE1" opacity="0.8"/>
<rect x="293.61" y="589.17" width="2.0" height="2.6" fill="#9ECAE1" opacity="0.8"/>
<rect x="299.41" y="589.20" width="2.0" height="2.6" fill="#9ECAE1" opacity="0.8"/>
<rect x="305.21" y="589.21" width="2.0" height="2.6" fill="#9ECAE1" opacity="0.8"/>
<rect x="311.01" y="589.23" width="2.0" height="2.6" fill="#9ECAE1" opacity="0.8"/>
<rect x="316.81" y="589.24" width="2.0" height="2.6" fill="#9ECAE1" opacity="0.8"/>
<rect x="322.61" y="589.26" width="2.0" height="2.6" fill="#9ECAE1" opacity="0.8"/>
<rect x="328.41" y="589.27" width="2.0" height="2.6" fill="#9ECAE1" opacity="0.8"/>
<rect x="334.21" y="589.28" width="2.0" height="2.6" fill="#9ECAE1" opacity="0.8"/>
<rect x="340.01" y="589.28" width="2.0" height="2.6" fill="#9ECAE1" opacity="0.8"/>
<rect x="345.81" y="589.29" width="2.0" height="2.6" fill="#9ECAE1" opacity="0.8"/>
<rect x="351.61" y="589.30" width="2.0" height="2.6" fill="#9ECAE1" opacity="0.8"/>
<rect x="357.41" y="589.30" width="2.0" height="2.6" fill="#9ECAE1" opacity="0.8"/>
<rect x="363.21" y="589.31" width="2.0" height="2.6" fill="#9ECAE1" opacity="0.8"/>
<rect x="369.01" y="589.31" width="2.0" height="2.6" fill="#9ECAE1" opacity="0.8"/>
<rect x="374.81" y="589.31" width="2.0" height="2.6" fill="#9ECAE1" opacity="0.8"/>
<rect x="380.61" y="589.32" width="2.0" height="2.6" fill="#9ECAE1" opacity="0.8"/>
<rect x="386.41" y="589.32" width="2.0" height="2.6" fill="#9ECAE1" opacity="0.8"/>
<rect x="392.21" y="589.32" width="2.0" height="2.6" fill="#9ECAE1" opacity="0.8"/>
<rect x="398.01" y="589.32" width="2.0" height="2.6" fill="#9ECAE1" opacity="0.8"/>
<rect x="403.81" y="589.32" width="2.0" height="2.6" fill="#9ECAE1" opacity="0.8"/>
<rect x="409.61" y="589.33" width="2.0" height="2.6" fill="#9ECAE1" opacity="0.8"/>
<rect x="415.41" y="589.33" width="2.0" height="2.6" fill="#9ECAE1" opacity="0.8"/>
<rect x="421.21" y="589.33" width="2.0" height="2.6" fill="#9ECAE1" opacity="0.8"/>
<rect x="427.01" y="589.33" width="2.0" height="2.6" fill="#9ECAE1" opacity="0.8"/>
<rect x="432.81" y="589.33" width="2.0" height="2.6" fill="#9ECAE1" opacity="0.8"/>
<rect x="438.61" y="589.33" width="2.0" height="2.6" fill="#9ECAE1" opacity="0.8"/>
<rect x="444.41" y="589.33" width="2.0" height="2.6" fill="#9ECAE1" opacity="0.8"/>
<rect x="450.21" y="589.33" width="2.0" height="2.6" fill="#9ECAE1" opacity="0.8"/>
<rect x="456.01" y="589.33" width="2.0" height="2.6" fill="#9ECAE1" opacity="0.8"/>
<rect x="461.81" y="589.33" width="2.0" height="2.6" fill="#9ECAE1" opacity="0.8"/>
<rect x="467.61" y="589.33" width="2.0" height="2.6" fill="#9ECAE1" opacity="0.8"/>
<rect x="473.41" y="589.33" width="2.0" height="2.6" fill="#9ECAE1" opacity="0.8"/>
<rect x="479.21" y="589.33" width="2.0" height="2.6" fill="#9ECAE1" opacity="0.8"/>
<rect x="485.01" y="589.33" width="2.0" height="2.6" fill="#9ECAE1" opacity="0.8"/>
<rect x="490.81" y="589.33" width="2.0" height="2.6" fill="#9ECAE1" opacity="0.8"/>
<rect x="496.61" y="589.33" width="2.0" height="2.6" fill="#9ECAE1" opacity="0.8"/>
<rect x="502.41" y="589.33" width="2.0" height="2.6" fill="#9ECAE1" opacity="0.8"/>
<rect x="508.21" y="589.33" width="2.0" height="2.6" fill="#9ECAE1" opacity="0.8"/>
<rect x="514.01" y="589.33" width="2.0" height="2.6" fill="#9ECAE1" opacity="0.8"/>
<rect x="519.81" y="589.33" width="2.0" height="2.6" fill="#9ECAE1" opacity="0.8"/>
<path d="M524.30,590.63H529.30M526.80,588.13V593.13" stroke="#9ECAE1" stroke-width="1.2" fill="none"/>
<line x1="47.00" y1="460.40" x2="47.00" y2="720.65" stroke="#2a2a2a" stroke-width="1.1"/>
<line x1="46.45" y1="720.10" x2="549.50" y2="720.10" stroke="#2a2a2a" stroke-width="1.1"/>
<line x1="44.50" y1="472.40" x2="47.00" y2="472.40" stroke="#333" stroke-width="0.9"/>
<text x="42.80" y="475.20" font-size="8.1" text-anchor="end" fill="#222" font-weight="normal" font-family='"Liberation Sans", sans-serif' >100%</text>
<line x1="44.50" y1="519.62" x2="47.00" y2="519.62" stroke="#333" stroke-width="0.9"/>
<text x="42.80" y="522.42" font-size="8.1" text-anchor="end" fill="#222" font-weight="normal" font-family='"Liberation Sans", sans-serif' >90%</text>
<line x1="44.50" y1="566.84" x2="47.00" y2="566.84" stroke="#333" stroke-width="0.9"/>
<text x="42.80" y="569.64" font-size="8.1" text-anchor="end" fill="#222" font-weight="normal" font-family='"Liberation Sans", sans-serif' >80%</text>
<line x1="44.50" y1="614.06" x2="47.00" y2="614.06" stroke="#333" stroke-width="0.9"/>
<text x="42.80" y="616.86" font-size="8.1" text-anchor="end" fill="#222" font-weight="normal" font-family='"Liberation Sans", sans-serif' >70%</text>
<line x1="44.50" y1="661.28" x2="47.00" y2="661.28" stroke="#333" stroke-width="0.9"/>
<text x="42.80" y="664.08" font-size="8.1" text-anchor="end" fill="#222" font-weight="normal" font-family='"Liberation Sans", sans-serif' >60%</text>
<line x1="44.50" y1="708.50" x2="47.00" y2="708.50" stroke="#333" stroke-width="0.9"/>
<text x="42.80" y="711.30" font-size="8.1" text-anchor="end" fill="#222" font-weight="normal" font-family='"Liberation Sans", sans-serif' >50%</text>
<line x1="69.40" y1="720.10" x2="69.40" y2="722.40" stroke="#333" stroke-width="0.9"/>
<text x="69.40" y="729.90" font-size="8.1" text-anchor="middle" fill="#222" font-weight="normal" font-family='"Liberation Sans", sans-serif' >0</text>
<line x1="140.30" y1="720.10" x2="140.30" y2="722.40" stroke="#333" stroke-width="0.9"/>
<text x="140.30" y="729.90" font-size="8.1" text-anchor="middle" fill="#222" font-weight="normal" font-family='"Liberation Sans", sans-serif' >31</text>
<line x1="211.19" y1="720.10" x2="211.19" y2="722.40" stroke="#333" stroke-width="0.9"/>
<text x="211.19" y="729.90" font-size="8.1" text-anchor="middle" fill="#222" font-weight="normal" font-family='"Liberation Sans", sans-serif' >62</text>
<line x1="282.09" y1="720.10" x2="282.09" y2="722.40" stroke="#333" stroke-width="0.9"/>
<text x="282.09" y="729.90" font-size="8.1" text-anchor="middle" fill="#222" font-weight="normal" font-family='"Liberation Sans", sans-serif' >93</text>
<line x1="352.99" y1="720.10" x2="352.99" y2="722.40" stroke="#333" stroke-width="0.9"/>
<text x="352.99" y="729.90" font-size="8.1" text-anchor="middle" fill="#222" font-weight="normal" font-family='"Liberation Sans", sans-serif' >124</text>
<line x1="423.88" y1="720.10" x2="423.88" y2="722.40" stroke="#333" stroke-width="0.9"/>
<text x="423.88" y="729.90" font-size="8.1" text-anchor="middle" fill="#222" font-weight="normal" font-family='"Liberation Sans", sans-serif' >155</text>
<line x1="494.78" y1="720.10" x2="494.78" y2="722.40" stroke="#333" stroke-width="0.9"/>
<text x="494.78" y="729.90" font-size="8.1" text-anchor="middle" fill="#222" font-weight="normal" font-family='"Liberation Sans", sans-serif' >186</text>
<text x="298.25" y="741.00" font-size="9.85" text-anchor="middle" fill="#000" font-weight="normal" font-family='"Liberation Sans", sans-serif' >Days After Admission</text>
<text transform="translate(11.30,590.25) rotate(-90) scale(1,1.0)" font-size="9.8" text-anchor="middle" font-family='"Liberation Sans", sans-serif' fill="#000">Survival</text>
<text x="627.10" y="633.80" font-size="6.7" text-anchor="start" fill="#000" font-weight="normal" font-family='"Liberation Sans", sans-serif' >Sex</text>
<line x1="627.80" y1="644.50" x2="637.50" y2="644.50" stroke="#DEEBF7" stroke-width="1.4"/>
<line x1="632.35" y1="642.00" x2="632.35" y2="647.00" stroke="#DEEBF7" stroke-width="1.0"/>
<text x="642.40" y="646.90" font-size="6.85" text-anchor="start" fill="#000" font-weight="normal" font-family='"Liberation Sans", sans-serif' >Female</text>
<line x1="627.80" y1="656.00" x2="637.50" y2="656.00" stroke="#9ECAE1" stroke-width="1.4"/>
<line x1="632.35" y1="653.50" x2="632.35" y2="658.50" stroke="#9ECAE1" stroke-width="1.0"/>
<text x="642.40" y="658.40" font-size="6.85" text-anchor="start" fill="#000" font-weight="normal" font-family='"Liberation Sans", sans-serif' >Male</text>
<text x="47.00" y="759.00" font-size="11.05" text-anchor="start" fill="#000" font-weight="normal" font-family='"Liberation Sans", sans-serif' >Number at risk</text>
<line x1="47.00" y1="766.00" x2="47.00" y2="822.15" stroke="#2a2a2a" stroke-width="1.1"/>
<line x1="46.45" y1="821.60" x2="549.50" y2="821.60" stroke="#2a2a2a" stroke-width="1.1"/>
<line x1="44.50" y1="781.30" x2="47.00" y2="781.30" stroke="#333" stroke-width="0.9"/>
<text x="42.80" y="784.20" font-size="8.2" text-anchor="end" fill="#DEEBF7" font-weight="normal" font-family='"Liberation Sans", sans-serif' >Female</text>
<text x="69.40" y="784.40" font-size="8.8" text-anchor="middle" fill="#000" font-weight="normal" font-family='"Liberation Sans", sans-serif' >355545</text>
<text x="140.30" y="784.40" font-size="8.8" text-anchor="middle" fill="#000" font-weight="normal" font-family='"Liberation Sans", sans-serif' >285908</text>
<text x="211.19" y="784.40" font-size="8.8" text-anchor="middle" fill="#000" font-weight="normal" font-family='"Liberation Sans", sans-serif' >281916</text>
<text x="282.09" y="784.40" font-size="8.8" text-anchor="middle" fill="#000" font-weight="normal" font-family='"Liberation Sans", sans-serif' >281422</text>
<text x="352.99" y="784.40" font-size="8.8" text-anchor="middle" fill="#000" font-weight="normal" font-family='"Liberation Sans", sans-serif' >281285</text>
<text x="423.88" y="784.40" font-size="8.8" text-anchor="middle" fill="#000" font-weight="normal" font-family='"Liberation Sans", sans-serif' >281224</text>
<text x="494.78" y="784.40" font-size="8.8" text-anchor="middle" fill="#000" font-weight="normal" font-family='"Liberation Sans", sans-serif' >281191</text>
<line x1="44.50" y1="806.30" x2="47.00" y2="806.30" stroke="#333" stroke-width="0.9"/>
<text x="42.80" y="809.20" font-size="8.2" text-anchor="end" fill="#9ECAE1" font-weight="normal" font-family='"Liberation Sans", sans-serif' >Male</text>
<text x="69.40" y="809.40" font-size="8.8" text-anchor="middle" fill="#000" font-weight="normal" font-family='"Liberation Sans", sans-serif' >343147</text>
<text x="140.30" y="809.40" font-size="8.8" text-anchor="middle" fill="#000" font-weight="normal" font-family='"Liberation Sans", sans-serif' >263510</text>
<text x="211.19" y="809.40" font-size="8.8" text-anchor="middle" fill="#000" font-weight="normal" font-family='"Liberation Sans", sans-serif' >258184</text>
<text x="282.09" y="809.40" font-size="8.8" text-anchor="middle" fill="#000" font-weight="normal" font-family='"Liberation Sans", sans-serif' >257552</text>
<text x="352.99" y="809.40" font-size="8.8" text-anchor="middle" fill="#000" font-weight="normal" font-family='"Liberation Sans", sans-serif' >257361</text>
<text x="423.88" y="809.40" font-size="8.8" text-anchor="middle" fill="#000" font-weight="normal" font-family='"Liberation Sans", sans-serif' >257282</text>
<text x="494.78" y="809.40" font-size="8.8" text-anchor="middle" fill="#000" font-weight="normal" font-family='"Liberation Sans", sans-serif' >257226</text>
<line x1="69.40" y1="821.60" x2="69.40" y2="823.90" stroke="#333" stroke-width="0.9"/>
<text x="69.40" y="831.50" font-size="8.1" text-anchor="middle" fill="#222" font-weight="normal" font-family='"Liberation Sans", sans-serif' >0</text>
<line x1="140.30" y1="821.60" x2="140.30" y2="823.90" stroke="#333" stroke-width="0.9"/>
<text x="140.30" y="831.50" font-size="8.1" text-anchor="middle" fill="#222" font-weight="normal" font-family='"Liberation Sans", sans-serif' >31</text>
<line x1="211.19" y1="821.60" x2="211.19" y2="823.90" stroke="#333" stroke-width="0.9"/>
<text x="211.19" y="831.50" font-size="8.1" text-anchor="middle" fill="#222" font-weight="normal" font-family='"Liberation Sans", sans-serif' >62</text>
<line x1="282.09" y1="821.60" x2="282.09" y2="823.90" stroke="#333" stroke-width="0.9"/>
<text x="282.09" y="831.50" font-size="8.1" text-anchor="middle" fill="#222" font-weight="normal" font-family='"Liberation Sans", sans-serif' >93</text>
<line x1="352.99" y1="821.60" x2="352.99" y2="823.90" stroke="#333" stroke-width="0.9"/>
<text x="352.99" y="831.50" font-size="8.1" text-anchor="middle" fill="#222" font-weight="normal" font-family='"Liberation Sans", sans-serif' >124</text>
<line x1="423.88" y1="821.60" x2="423.88" y2="823.90" stroke="#333" stroke-width="0.9"/>
<text x="423.88" y="831.50" font-size="8.1" text-anchor="middle" fill="#222" font-weight="normal" font-family='"Liberation Sans", sans-serif' >155</text>
<line x1="494.78" y1="821.60" x2="494.78" y2="823.90" stroke="#333" stroke-width="0.9"/>
<text x="494.78" y="831.50" font-size="8.1" text-anchor="middle" fill="#222" font-weight="normal" font-family='"Liberation Sans", sans-serif' >186</text>
<text x="298.25" y="842.70" font-size="9.85" text-anchor="middle" fill="#000" font-weight="normal" font-family='"Liberation Sans", sans-serif' >Days After Admission</text>
<text transform="translate(11.30,793.80) rotate(-90) scale(1,1.0)" font-size="10.3" text-anchor="middle" font-family='"Liberation Sans", sans-serif' fill="#000">Sex</text>
<text x="342.5" y="875.40" font-size="19.2" text-anchor="middle" fill="#000"><tspan font-family='"Liberation Sans", sans-serif' font-weight="bold">(b)</tspan><tspan font-family='"Liberation Serif", serif'> By Sex</tspan></text>
<text x="108.50" y="895.00" font-size="10.9" text-anchor="start" fill="#000" font-weight="normal" font-family='"Liberation Sans", sans-serif' >KM Curve Region Stratified</text>
<path d="M128.00,913.60H129.97V915.78H131.93V917.64H133.90V919.37H135.86V921.09H137.82V922.92H139.79V924.98H141.75V927.36H143.72V930.06H145.69V932.97H147.65V935.88H149.62V938.53H151.58V940.69H153.55V942.29H155.51V943.41H157.47V944.21H159.44V944.83H161.41V945.37H163.37V945.85H165.34V946.30H167.30V946.71H169.26V947.10H171.23V947.46H173.19V947.79H175.16V948.10H177.12V948.39H179.09V948.66H181.06V948.91H183.02V949.14H184.99V949.36H186.95V949.56H188.91V949.75H190.88V949.93H192.84V950.09H194.81V950.24H196.78V950.39H198.74V950.52H200.70V950.64H202.67V950.76H204.63V950.87H206.60V950.97H208.56V951.06H210.53V951.15H212.50V951.23H214.46V951.31H216.43V951.38H218.39V951.44H220.36V951.51H222.32V951.56H224.29V951.62H226.25V951.67H228.22V951.72H230.18V951.76H232.15V951.80H234.11V951.84H236.07V951.88H238.04V951.91H240.00V951.94H241.97V951.97H243.94V952.00H245.90V952.03H247.87V952.05H249.83V952.07H251.80V952.09H253.76V952.11H255.73V952.13H257.69V952.15H259.65V952.17H261.62V952.18H263.59V952.20H265.55V952.21H267.51V952.22H269.48V952.23H271.44V952.24H273.41V952.25H275.38V952.26H277.34V952.27H279.31V952.28H281.27V952.29H283.24V952.30H285.20V952.30H287.17V952.31H289.13V952.31H291.10V952.32H293.06V952.33H295.02V952.33H296.99V952.34H298.96V952.34H300.92V952.34H302.88V952.35H304.85V952.35H306.81V952.35H308.78V952.36H310.75V952.36H312.71V952.36H314.68V952.37H316.64V952.37H318.61V952.37H320.57V952.37H322.53V952.37H324.50V952.38H326.47V952.38H328.43V952.38H330.39V952.38H332.36V952.38H334.33V952.38H336.29V952.39H338.25V952.39H340.22V952.39H342.19V952.39H344.15V952.39H346.12V952.39H348.08V952.39H350.05V952.39H352.01V952.39H353.98V952.39H355.94V952.39H357.90V952.40H359.87V952.40H361.84V952.40H363.80V952.40H365.76V952.40H367.73V952.40H369.70V952.40H371.66V952.40H373.62V952.40H375.59V952.40H377.56V952.40H379.52V952.40H381.49V952.40H383.45V952.40H385.42V952.40H387.38V952.40H389.35V952.40H391.31V952.40H393.28V952.40H395.24V952.40H397.20V952.40H399.17V952.40H401.13V952.40H403.10V952.40H405.06V952.40H407.03V952.40H409.00V952.40H410.96V952.40H412.93V952.40H414.89V952.40H416.86V952.40H418.82V952.40H420.79V952.40H422.75V952.40H424.72V952.40H426.68V952.40H428.65V952.40H430.61V952.40H432.57V952.40H434.54V952.40H436.50V952.40H438.47V952.40H440.44V952.40H442.40V952.40H444.37V952.40H446.33V952.40H448.30V952.40H450.26V952.40H452.23V952.40H454.19V952.40H456.16V952.40H458.12V952.40H460.09V952.40H462.05V952.40H464.01V952.40H465.98V952.40H467.94V952.40H469.91V952.40H471.88V952.40H473.84V952.40H475.81V952.40H477.77V952.40H479.74V952.40H481.70V952.40H483.67V952.40H485.63V952.40H487.60V952.40H489.56V952.40H491.53V952.41H493.49V952.41H495.46V952.41H497.42V952.41H499.38V952.41H501.35V952.41H503.31V952.41H505.28V952.41H507.25V952.41H509.21V952.41H511.18V952.41H513.14V952.41H515.11V952.41H517.07V952.41H519.04V952.41H521.00V952.41" fill="none" stroke="#EFF3FF" stroke-width="1.4" stroke-linejoin="miter"/>
<path d="M518.50,952.41H523.50M521.00,949.91V954.91" stroke="#EFF3FF" stroke-width="1.2" fill="none"/>
<path d="M128.00,913.60H129.97V915.18H131.93V917.97H133.90V921.49H135.86V925.52H137.82V929.91H139.79V934.54H141.75V939.29H143.72V944.10H145.69V948.88H147.65V953.58H149.62V958.15H151.58V962.56H153.55V966.77H155.51V970.77H157.47V974.53H159.44V978.06H161.41V981.35H163.37V984.40H165.34V987.21H167.30V989.80H169.26V992.17H171.23V994.34H173.19V996.31H175.16V998.09H177.12V999.71H179.09V1001.18H181.06V1002.51H183.02V1003.70H184.99V1004.78H186.95V1005.75H188.91V1006.63H190.88V1007.43H192.84V1008.15H194.81V1008.80H196.78V1009.39H198.74V1009.93H200.70V1010.42H202.67V1010.87H204.63V1011.28H206.60V1011.66H208.56V1012.01H210.53V1012.33H212.50V1012.63H214.46V1012.91H216.43V1013.17H218.39V1013.42H220.36V1013.65H222.32V1013.87H224.29V1014.07H226.25V1014.26H228.22V1014.45H230.18V1014.62H232.15V1014.78H234.11V1014.94H236.07V1015.09H238.04V1015.23H240.00V1015.36H241.97V1015.49H243.94V1015.61H245.90V1015.73H247.87V1015.84H249.83V1015.94H251.80V1016.05H253.76V1016.14H255.73V1016.23H257.69V1016.32H259.65V1016.40H261.62V1016.48H263.59V1016.56H265.55V1016.63H267.51V1016.70H269.48V1016.77H271.44V1016.83H273.41V1016.89H275.38V1016.95H277.34V1017.00H279.31V1017.05H281.27V1017.10H283.24V1017.15H285.20V1017.20H287.17V1017.24H289.13V1017.28H291.10V1017.32H293.06V1017.35H295.02V1017.39H296.99V1017.42H298.96V1017.45H300.92V1017.48H302.88V1017.51H304.85V1017.54H306.81V1017.57H308.78V1017.59H310.75V1017.61H312.71V1017.64H314.68V1017.66H316.64V1017.68H318.61V1017.70H320.57V1017.72H322.53V1017.73H324.50V1017.75H326.47V1017.76H328.43V1017.78H330.39V1017.79H332.36V1017.81H334.33V1017.82H336.29V1017.83H338.25V1017.84H340.22V1017.85H342.19V1017.86H344.15V1017.87H346.12V1017.88H348.08V1017.89H350.05V1017.90H352.01V1017.91H353.98V1017.91H355.94V1017.92H357.90V1017.93H359.87V1017.93H361.84V1017.94H363.80V1017.95H365.76V1017.95H367.73V1017.96H369.70V1017.96H371.66V1017.97H373.62V1017.97H375.59V1017.97H377.56V1017.98H379.52V1017.98H381.49V1017.99H383.45V1017.99H385.42V1017.99H387.38V1017.99H389.35V1018.00H391.31V1018.00H393.28V1018.00H395.24V1018.01H397.20V1018.01H399.17V1018.01H401.13V1018.01H403.10V1018.01H405.06V1018.01H407.03V1018.02H409.00V1018.02H410.96V1018.02H412.93V1018.02H414.89V1018.02H416.86V1018.02H418.82V1018.02H420.79V1018.03H422.75V1018.03H424.72V1018.03H426.68V1018.03H428.65V1018.03H430.61V1018.03H432.57V1018.03H434.54V1018.03H436.50V1018.03H438.47V1018.03H440.44V1018.03H442.40V1018.03H444.37V1018.04H446.33V1018.04H448.30V1018.04H450.26V1018.04H452.23V1018.04H454.19V1018.04H456.16V1018.04H458.12V1018.04H460.09V1018.04H462.05V1018.04H464.01V1018.04H465.98V1018.04H467.94V1018.04H469.91V1018.04H471.88V1018.04H473.84V1018.04H475.81V1018.04H477.77V1018.04H479.74V1018.04H481.70V1018.04H483.67V1018.04H485.63V1018.04H487.60V1018.04H489.56V1018.04H491.53V1018.04H493.49V1018.04H495.46V1018.04H497.42V1018.04H499.38V1018.04H501.35V1018.04H503.31V1018.04H505.28V1018.04H507.25V1018.04H509.21V1018.04H511.18V1018.04H513.14V1018.04H515.11V1018.04H517.07V1018.04H519.04V1018.04H521.00V1018.04" fill="none" stroke="#C6DBEF" stroke-width="1.4" stroke-linejoin="miter"/>
<path d="M518.50,1018.04H523.50M521.00,1015.54V1020.54" stroke="#C6DBEF" stroke-width="1.2" fill="none"/>
<path d="M128.00,913.60H129.97V915.58H131.93V918.23H133.90V921.12H135.86V924.12H137.82V927.15H139.79V930.16H141.75V933.11H143.72V935.99H145.69V938.78H147.65V941.46H149.62V944.03H151.58V946.48H153.55V948.81H155.51V951.02H157.47V953.12H159.44V955.09H161.41V956.96H163.37V958.71H165.34V960.36H167.30V961.90H169.26V963.35H171.23V964.71H173.19V965.98H175.16V967.17H177.12V968.28H179.09V969.31H181.06V970.28H183.02V971.18H184.99V972.03H186.95V972.81H188.91V973.55H190.88V974.23H192.84V974.87H194.81V975.47H196.78V976.03H198.74V976.55H200.70V977.04H202.67V977.49H204.63V977.92H206.60V978.32H208.56V978.70H210.53V979.05H212.50V979.38H214.46V979.69H216.43V979.98H218.39V980.26H220.36V980.52H222.32V980.76H224.29V981.00H226.25V981.22H228.22V981.42H230.18V981.62H232.15V981.81H234.11V981.98H236.07V982.15H238.04V982.31H240.00V982.46H241.97V982.61H243.94V982.74H245.90V982.88H247.87V983.00H249.83V983.12H251.80V983.23H253.76V983.34H255.73V983.45H257.69V983.55H259.65V983.65H261.62V983.74H263.59V983.83H265.55V983.91H267.51V983.99H269.48V984.07H271.44V984.14H273.41V984.22H275.38V984.29H277.34V984.35H279.31V984.42H281.27V984.48H283.24V984.54H285.20V984.59H287.17V984.65H289.13V984.70H291.10V984.75H293.06V984.80H295.02V984.85H296.99V984.89H298.96V984.93H300.92V984.98H302.88V985.02H304.85V985.06H306.81V985.09H308.78V985.13H310.75V985.16H312.71V985.20H314.68V985.23H316.64V985.26H318.61V985.29H320.57V985.32H322.53V985.34H324.50V985.37H326.47V985.39H328.43V985.42H330.39V985.44H332.36V985.46H334.33V985.49H336.29V985.51H338.25V985.53H340.22V985.55H342.19V985.56H344.15V985.58H346.12V985.60H348.08V985.62H350.05V985.63H352.01V985.65H353.98V985.66H355.94V985.68H357.90V985.69H359.87V985.70H361.84V985.71H363.80V985.73H365.76V985.74H367.73V985.75H369.70V985.76H371.66V985.77H373.62V985.78H375.59V985.79H377.56V985.80H379.52V985.81H381.49V985.81H383.45V985.82H385.42V985.83H387.38V985.84H389.35V985.84H391.31V985.85H393.28V985.86H395.24V985.86H397.20V985.87H399.17V985.88H401.13V985.88H403.10V985.89H405.06V985.89H407.03V985.90H409.00V985.90H410.96V985.90H412.93V985.91H414.89V985.91H416.86V985.92H418.82V985.92H420.79V985.92H422.75V985.93H424.72V985.93H426.68V985.93H428.65V985.94H430.61V985.94H432.57V985.94H434.54V985.95H436.50V985.95H438.47V985.95H440.44V985.95H442.40V985.96H444.37V985.96H446.33V985.96H448.30V985.96H450.26V985.96H452.23V985.96H454.19V985.97H456.16V985.97H458.12V985.97H460.09V985.97H462.05V985.97H464.01V985.97H465.98V985.98H467.94V985.98H469.91V985.98H471.88V985.98H473.84V985.98H475.81V985.98H477.77V985.98H479.74V985.98H481.70V985.98H483.67V985.99H485.63V985.99H487.60V985.99H489.56V985.99H491.53V985.99H493.49V985.99H495.46V985.99H497.42V985.99H499.38V985.99H501.35V985.99H503.31V985.99H505.28V985.99H507.25V985.99H509.21V985.99H511.18V985.99H513.14V985.99H515.11V986.00H517.07V986.00H519.04V986.00H521.00V986.00" fill="none" stroke="#9ECAE1" stroke-width="1.4" stroke-linejoin="miter"/>
<path d="M518.50,986.00H523.50M521.00,983.50V988.50" stroke="#9ECAE1" stroke-width="1.2" fill="none"/>
<path d="M128.00,913.60H129.97V914.99H131.93V918.24H133.90V921.97H135.86V926.02H137.82V930.34H139.79V934.93H141.75V939.98H143.72V945.66H145.69V951.62H147.65V957.53H149.62V963.05H151.58V967.84H153.55V972.06H155.51V975.98H157.47V979.65H159.44V983.13H161.41V986.46H163.37V989.70H165.34V992.82H167.30V995.83H169.26V998.70H171.23V1001.43H173.19V1004.01H175.16V1006.42H177.12V1008.65H179.09V1010.78H181.06V1012.85H183.02V1014.92H184.99V1017.05H186.95V1019.47H188.91V1022.12H190.88V1024.27H192.84V1025.31H194.81V1025.87H196.78V1026.30H198.74V1026.85H200.70V1027.78H202.67V1029.07H204.63V1030.41H206.60V1031.50H208.56V1032.36H210.53V1033.14H212.50V1033.80H214.46V1034.33H216.43V1034.73H218.39V1035.08H220.36V1035.42H222.32V1035.83H224.29V1036.27H226.25V1036.72H228.22V1037.16H230.18V1037.56H232.15V1037.93H234.11V1038.33H236.07V1038.79H238.04V1039.38H240.00V1040.04H241.97V1040.66H243.94V1041.13H245.90V1041.52H247.87V1041.87H249.83V1042.23H251.80V1042.62H253.76V1043.02H255.73V1043.43H257.69V1043.83H259.65V1044.31H261.62V1044.80H263.59V1045.19H265.55V1045.34H267.51V1045.41H269.48V1045.47H271.44V1045.53H273.41V1045.59H275.38V1045.64H277.34V1045.68H279.31V1045.72H281.27V1045.76H283.24V1045.79H285.20V1045.82H287.17V1045.85H289.13V1045.87H291.10V1045.89H293.06V1045.91H295.02V1045.93H296.99V1045.95H298.96V1045.97H300.92V1045.98H302.88V1046.00H304.85V1046.01H306.81V1046.03H308.78V1046.04H310.75V1046.06H312.71V1046.08H314.68V1046.10H316.64V1046.11H318.61V1046.13H320.57V1046.15H322.53V1046.17H324.50V1046.18H326.47V1046.20H328.43V1046.22H330.39V1046.23H332.36V1046.25H334.33V1046.26H336.29V1046.28H338.25V1046.29H340.22V1046.31H342.19V1046.32H344.15V1046.33H346.12V1046.35H348.08V1046.36H350.05V1046.37H352.01V1046.38H353.98V1046.39H355.94V1046.40H357.90V1046.41H359.87V1046.41H361.84V1046.42H363.80V1046.42H365.76V1046.43H367.73V1046.43H369.70V1046.43H371.66V1046.43H373.62V1046.43H375.59V1046.43H377.56V1046.43H379.52V1046.43H381.49V1046.43H383.45V1046.43H385.42V1046.43H387.38V1046.43H389.35V1046.43H391.31V1046.43H393.28V1046.43H395.24V1046.43H397.20V1046.43H399.17V1046.43H401.13V1046.43H403.10V1046.43H405.06V1046.43H407.03V1046.43H409.00V1046.43H410.96V1046.44H412.93V1046.44H414.89V1046.44H416.86V1046.44H418.82V1046.44H420.79V1046.44H422.75V1046.44H424.72V1046.44H426.68V1046.44H428.65V1046.44H430.61V1046.44H432.57V1046.44H434.54V1046.44H436.50V1046.44H438.47V1046.44H440.44V1046.44H442.40V1046.44H444.37V1046.44H446.33V1046.44H448.30V1046.44H450.26V1046.44H452.23V1046.44H454.19V1046.44H456.16V1046.44H458.12V1046.44H460.09V1046.44H462.05V1046.44H464.01V1046.44H465.98V1046.44H467.94V1046.44H469.91V1046.44H471.88V1046.44H473.84V1046.44H475.81V1046.44H477.77V1046.44H479.74V1046.44H481.70V1046.44H483.67V1046.44H485.63V1046.44H487.60V1046.44H489.56V1046.44H491.53V1046.44H493.49V1046.44H495.46V1046.44H497.42V1046.44H499.38V1046.44H501.35V1046.44H503.31V1046.44H505.28V1046.44H507.25V1046.44H509.21V1046.44H511.18V1046.44H513.14V1046.44H515.11V1046.44H517.07V1046.44H519.04V1046.44H521.00V1046.44" fill="none" stroke="#6BAED6" stroke-width="1.4" stroke-linejoin="miter"/>
<path d="M518.50,1046.44H523.50M521.00,1043.94V1048.94" stroke="#6BAED6" stroke-width="1.2" fill="none"/>
<path d="M128.00,913.60H129.97V915.20H131.93V918.08H133.90V921.76H135.86V926.00H137.82V930.66H139.79V935.59H141.75V940.67H143.72V945.81H145.69V950.93H147.65V955.95H149.62V960.83H151.58V965.51H153.55V969.98H155.51V974.19H157.47V978.15H159.44V981.84H161.41V985.27H163.37V988.43H165.34V991.35H167.30V994.02H169.26V996.47H171.23V998.71H173.19V1000.76H175.16V1002.63H177.12V1004.33H179.09V1005.89H181.06V1007.32H183.02V1008.63H184.99V1009.84H186.95V1010.95H188.91V1011.98H190.88V1012.93H192.84V1013.81H194.81V1014.64H196.78V1015.41H198.74V1016.13H200.70V1016.80H202.67V1017.44H204.63V1018.04H206.60V1018.61H208.56V1019.15H210.53V1019.66H212.50V1020.14H214.46V1020.60H216.43V1021.03H218.39V1021.45H220.36V1021.84H222.32V1022.21H224.29V1022.57H226.25V1022.90H228.22V1023.22H230.18V1023.53H232.15V1023.82H234.11V1024.09H236.07V1024.35H238.04V1024.60H240.00V1024.83H241.97V1025.05H243.94V1025.27H245.90V1025.47H247.87V1025.66H249.83V1025.84H251.80V1026.01H253.76V1026.17H255.73V1026.32H257.69V1026.47H259.65V1026.60H261.62V1026.73H263.59V1026.85H265.55V1026.97H267.51V1027.08H269.48V1027.18H271.44V1027.28H273.41V1027.37H275.38V1027.46H277.34V1027.54H279.31V1027.62H281.27V1027.69H283.24V1027.76H285.20V1027.83H287.17V1027.89H289.13V1027.94H291.10V1028.00H293.06V1028.05H295.02V1028.10H296.99V1028.14H298.96V1028.19H300.92V1028.23H302.88V1028.26H304.85V1028.30H306.81V1028.33H308.78V1028.36H310.75V1028.39H312.71V1028.42H314.68V1028.45H316.64V1028.47H318.61V1028.49H320.57V1028.52H322.53V1028.54H324.50V1028.55H326.47V1028.57H328.43V1028.59H330.39V1028.60H332.36V1028.62H334.33V1028.63H336.29V1028.65H338.25V1028.66H340.22V1028.67H342.19V1028.68H344.15V1028.69H346.12V1028.70H348.08V1028.71H350.05V1028.72H352.01V1028.72H353.98V1028.73H355.94V1028.74H357.90V1028.74H359.87V1028.75H361.84V1028.75H363.80V1028.76H365.76V1028.76H367.73V1028.77H369.70V1028.77H371.66V1028.78H373.62V1028.78H375.59V1028.78H377.56V1028.79H379.52V1028.79H381.49V1028.79H383.45V1028.79H385.42V1028.80H387.38V1028.80H389.35V1028.80H391.31V1028.80H393.28V1028.80H395.24V1028.81H397.20V1028.81H399.17V1028.81H401.13V1028.81H403.10V1028.81H405.06V1028.81H407.03V1028.81H409.00V1028.82H410.96V1028.82H412.93V1028.82H414.89V1028.82H416.86V1028.82H418.82V1028.82H420.79V1028.82H422.75V1028.82H424.72V1028.82H426.68V1028.82H428.65V1028.82H430.61V1028.82H432.57V1028.82H434.54V1028.82H436.50V1028.82H438.47V1028.82H440.44V1028.82H442.40V1028.83H444.37V1028.83H446.33V1028.83H448.30V1028.83H450.26V1028.83H452.23V1028.83H454.19V1028.83H456.16V1028.83H458.12V1028.83H460.09V1028.83H462.05V1028.83H464.01V1028.83H465.98V1028.83H467.94V1028.83H469.91V1028.83H471.88V1028.83H473.84V1028.83H475.81V1028.83H477.77V1028.83H479.74V1028.83H481.70V1028.83H483.67V1028.83H485.63V1028.83H487.60V1028.83H489.56V1028.83H491.53V1028.83H493.49V1028.83H495.46V1028.83H497.42V1028.83H499.38V1028.83H501.35V1028.83H503.31V1028.83H505.28V1028.83H507.25V1028.83H509.21V1028.83H511.18V1028.83H513.14V1028.83H515.11V1028.83H517.07V1028.83H519.04V1028.83H521.00V1028.83" fill="none" stroke="#4292C6" stroke-width="1.4" stroke-linejoin="miter"/>
<path d="M518.50,1028.83H523.50M521.00,1026.33V1031.33" stroke="#4292C6" stroke-width="1.2" fill="none"/>
<path d="M128.00,913.60H129.97V922.21H131.93V933.69H133.90V945.79H135.86V957.76H137.82V969.22H139.79V979.95H141.75V989.84H143.72V998.83H145.69V1006.92H147.65V1014.15H149.62V1020.56H151.58V1026.20H153.55V1031.13H155.51V1035.44H157.47V1039.17H159.44V1042.39H161.41V1045.16H163.37V1047.54H165.34V1049.57H167.30V1051.31H169.26V1052.79H171.23V1054.04H173.19V1055.11H175.16V1056.01H177.12V1056.77H179.09V1057.42H181.06V1057.97H183.02V1058.43H184.99V1058.82H186.95V1059.16H188.91V1059.44H190.88V1059.69H192.84V1059.90H194.81V1060.07H196.78V1060.23H198.74V1060.36H200.70V1060.48H202.67V1060.58H204.63V1060.67H206.60V1060.76H208.56V1060.83H210.53V1060.89H212.50V1060.95H214.46V1061.00H216.43V1061.05H218.39V1061.10H220.36V1061.14H222.32V1061.17H224.29V1061.21H226.25V1061.24H228.22V1061.27H230.18V1061.30H232.15V1061.32H234.11V1061.35H236.07V1061.37H238.04V1061.39H240.00V1061.41H241.97V1061.43H243.94V1061.45H245.90V1061.47H247.87V1061.49H249.83V1061.50H251.80V1061.51H253.76V1061.53H255.73V1061.54H257.69V1061.55H259.65V1061.56H261.62V1061.57H263.59V1061.58H265.55V1061.59H267.51V1061.60H269.48V1061.61H271.44V1061.62H273.41V1061.62H275.38V1061.63H277.34V1061.64H279.31V1061.64H281.27V1061.65H283.24V1061.65H285.20V1061.66H287.17V1061.66H289.13V1061.67H291.10V1061.67H293.06V1061.68H295.02V1061.68H296.99V1061.68H298.96V1061.69H300.92V1061.69H302.88V1061.69H304.85V1061.69H306.81V1061.70H308.78V1061.70H310.75V1061.70H312.71V1061.70H314.68V1061.71H316.64V1061.71H318.61V1061.71H320.57V1061.71H322.53V1061.71H324.50V1061.71H326.47V1061.71H328.43V1061.71H330.39V1061.72H332.36V1061.72H334.33V1061.72H336.29V1061.72H338.25V1061.72H340.22V1061.72H342.19V1061.72H344.15V1061.72H346.12V1061.72H348.08V1061.72H350.05V1061.72H352.01V1061.72H353.98V1061.72H355.94V1061.72H357.90V1061.72H359.87V1061.73H361.84V1061.73H363.80V1061.73H365.76V1061.73H367.73V1061.73H369.70V1061.73H371.66V1061.73H373.62V1061.73H375.59V1061.73H377.56V1061.73H379.52V1061.73H381.49V1061.73H383.45V1061.73H385.42V1061.73H387.38V1061.73H389.35V1061.73H391.31V1061.73H393.28V1061.73H395.24V1061.73H397.20V1061.73H399.17V1061.73H401.13V1061.73H403.10V1061.73H405.06V1061.73H407.03V1061.73H409.00V1061.73H410.96V1061.73H412.93V1061.73H414.89V1061.73H416.86V1061.73H418.82V1061.73H420.79V1061.73H422.75V1061.73H424.72V1061.73H426.68V1061.73H428.65V1061.73H430.61V1061.73H432.57V1061.73H434.54V1061.73H436.50V1061.73H438.47V1061.73H440.44V1061.73H442.40V1061.73H444.37V1061.73H446.33V1061.73H448.30V1061.73H450.26V1061.73H452.23V1061.73H454.19V1061.73H456.16V1061.73H458.12V1061.73H460.09V1061.73H462.05V1061.73H464.01V1061.73H465.98V1061.73H467.94V1061.73H469.91V1061.73H471.88V1061.73H473.84V1061.73H475.81V1061.73H477.77V1061.73H479.74V1061.73H481.70V1061.73H483.67V1061.73H485.63V1061.73H487.60V1061.73H489.56V1061.73H491.53V1061.73H493.49V1061.73H495.46V1061.73H497.42V1061.73H499.38V1061.73H501.35V1061.73H503.31V1061.73H505.28V1061.73H507.25V1061.73H509.21V1061.73H511.18V1061.73H513.14V1061.73H515.11V1061.73H517.07V1061.73H519.04V1061.73H521.00V1061.73" fill="none" stroke="#2171B5" stroke-width="1.4" stroke-linejoin="miter"/>
<path d="M518.50,1061.73H523.50M521.00,1059.23V1064.23" stroke="#2171B5" stroke-width="1.2" fill="none"/>
<path d="M128.00,913.60H129.97V922.76H131.93V932.08H133.90V940.86H135.86V948.98H137.82V956.40H139.79V963.15H141.75V969.26H143.72V974.77H145.69V979.73H147.65V984.17H149.62V988.16H151.58V991.71H153.55V994.89H155.51V997.72H157.47V1000.24H159.44V1002.48H161.41V1004.48H163.37V1006.24H165.34V1007.81H167.30V1009.20H169.26V1010.43H171.23V1011.52H173.19V1012.48H175.16V1013.34H177.12V1014.09H179.09V1014.76H181.06V1015.35H183.02V1015.87H184.99V1016.33H186.95V1016.73H188.91V1017.09H190.88V1017.41H192.84V1017.69H194.81V1017.94H196.78V1018.16H198.74V1018.36H200.70V1018.53H202.67V1018.69H204.63V1018.83H206.60V1018.95H208.56V1019.07H210.53V1019.17H212.50V1019.26H214.46V1019.35H216.43V1019.42H218.39V1019.49H220.36V1019.56H222.32V1019.62H224.29V1019.68H226.25V1019.74H228.22V1019.79H230.18V1019.84H232.15V1019.89H234.11V1019.94H236.07V1019.98H238.04V1020.02H240.00V1020.07H241.97V1020.11H243.94V1020.15H245.90V1020.19H247.87V1020.23H249.83V1020.27H251.80V1020.30H253.76V1020.34H255.73V1020.38H257.69V1020.41H259.65V1020.44H261.62V1020.48H263.59V1020.51H265.55V1020.54H267.51V1020.57H269.48V1020.60H271.44V1020.63H273.41V1020.65H275.38V1020.68H277.34V1020.70H279.31V1020.72H281.27V1020.74H283.24V1020.76H285.20V1020.78H287.17V1020.80H289.13V1020.82H291.10V1020.83H293.06V1020.84H295.02V1020.86H296.99V1020.87H298.96V1020.88H300.92V1020.89H302.88V1020.89H304.85V1020.90H306.81V1020.91H308.78V1020.91H310.75V1020.92H312.71V1020.92H314.68V1020.93H316.64V1020.93H318.61V1020.93H320.57V1020.93H322.53V1020.94H324.50V1020.94H326.47V1020.94H328.43V1020.94H330.39V1020.94H332.36V1020.94H334.33V1020.94H336.29V1020.94H338.25V1020.94H340.22V1020.94H342.19V1020.94H344.15V1020.94H346.12V1020.94H348.08V1020.94H350.05V1020.94H352.01V1020.95H353.98V1020.95H355.94V1020.95H357.90V1020.95H359.87V1020.95H361.84V1020.95H363.80V1020.95H365.76V1020.95H367.73V1020.95H369.70V1020.95H371.66V1020.95H373.62V1020.95H375.59V1020.95H377.56V1020.95H379.52V1020.95H381.49V1020.95H383.45V1020.95H385.42V1020.95H387.38V1020.95H389.35V1020.95H391.31V1020.95H393.28V1020.95H395.24V1020.95H397.20V1020.95H399.17V1020.95H401.13V1020.95H403.10V1020.95H405.06V1020.95H407.03V1020.95H409.00V1020.95H410.96V1020.95H412.93V1020.95H414.89V1020.95H416.86V1020.95H418.82V1020.95H420.79V1020.95H422.75V1020.95H424.72V1020.95H426.68V1020.95H428.65V1020.95H430.61V1020.95H432.57V1020.95H434.54V1020.95H436.50V1020.95H438.47V1020.95H440.44V1020.95H442.40V1020.95H444.37V1020.95H446.33V1020.95H448.30V1020.95H450.26V1020.95H452.23V1020.95H454.19V1020.95H456.16V1020.95H458.12V1020.95H460.09V1020.95H462.05V1020.95H464.01V1020.95H465.98V1020.95H467.94V1020.95H469.91V1020.95H471.88V1020.95H473.84V1020.95H475.81V1020.95H477.77V1020.95H479.74V1020.95H481.70V1020.95H483.67V1020.95H485.63V1020.95H487.60V1020.95H489.56V1020.95H491.53V1020.95H493.49V1020.95H495.46V1020.95H497.42V1020.95H499.38V1020.95H501.35V1020.95H503.31V1020.95H505.28V1020.95H507.25V1020.95H509.21V1020.95H511.18V1020.95H513.14V1020.95H515.11V1020.95H517.07V1020.95H519.04V1020.95H521.00V1020.95" fill="none" stroke="#084594" stroke-width="1.4" stroke-linejoin="miter"/>
<path d="M518.50,1020.95H523.50M521.00,1018.45V1023.45" stroke="#084594" stroke-width="1.2" fill="none"/>
<line x1="108.50" y1="901.90" x2="108.50" y2="1157.75" stroke="#2a2a2a" stroke-width="1.1"/>
<line x1="107.95" y1="1157.20" x2="540.60" y2="1157.20" stroke="#2a2a2a" stroke-width="1.1"/>
<line x1="106.00" y1="913.60" x2="108.50" y2="913.60" stroke="#333" stroke-width="0.9"/>
<text x="104.30" y="916.40" font-size="8.1" text-anchor="end" fill="#222" font-weight="normal" font-family='"Liberation Sans", sans-serif' >100%</text>
<line x1="106.00" y1="959.98" x2="108.50" y2="959.98" stroke="#333" stroke-width="0.9"/>
<text x="104.30" y="962.78" font-size="8.1" text-anchor="end" fill="#222" font-weight="normal" font-family='"Liberation Sans", sans-serif' >90%</text>
<line x1="106.00" y1="1006.36" x2="108.50" y2="1006.36" stroke="#333" stroke-width="0.9"/>
<text x="104.30" y="1009.16" font-size="8.1" text-anchor="end" fill="#222" font-weight="normal" font-family='"Liberation Sans", sans-serif' >80%</text>
<line x1="106.00" y1="1052.74" x2="108.50" y2="1052.74" stroke="#333" stroke-width="0.9"/>
<text x="104.30" y="1055.54" font-size="8.1" text-anchor="end" fill="#222" font-weight="normal" font-family='"Liberation Sans", sans-serif' >70%</text>
<line x1="106.00" y1="1099.12" x2="108.50" y2="1099.12" stroke="#333" stroke-width="0.9"/>
<text x="104.30" y="1101.92" font-size="8.1" text-anchor="end" fill="#222" font-weight="normal" font-family='"Liberation Sans", sans-serif' >60%</text>
<line x1="106.00" y1="1145.50" x2="108.50" y2="1145.50" stroke="#333" stroke-width="0.9"/>
<text x="104.30" y="1148.30" font-size="8.1" text-anchor="end" fill="#222" font-weight="normal" font-family='"Liberation Sans", sans-serif' >50%</text>
<line x1="128.00" y1="1157.20" x2="128.00" y2="1159.50" stroke="#333" stroke-width="0.9"/>
<text x="128.00" y="1167.40" font-size="8.1" text-anchor="middle" fill="#222" font-weight="normal" font-family='"Liberation Sans", sans-serif' >0</text>
<line x1="188.91" y1="1157.20" x2="188.91" y2="1159.50" stroke="#333" stroke-width="0.9"/>
<text x="188.91" y="1167.40" font-size="8.1" text-anchor="middle" fill="#222" font-weight="normal" font-family='"Liberation Sans", sans-serif' >31</text>
<line x1="249.83" y1="1157.20" x2="249.83" y2="1159.50" stroke="#333" stroke-width="0.9"/>
<text x="249.83" y="1167.40" font-size="8.1" text-anchor="middle" fill="#222" font-weight="normal" font-family='"Liberation Sans", sans-serif' >62</text>
<line x1="310.75" y1="1157.20" x2="310.75" y2="1159.50" stroke="#333" stroke-width="0.9"/>
<text x="310.75" y="1167.40" font-size="8.1" text-anchor="middle" fill="#222" font-weight="normal" font-family='"Liberation Sans", sans-serif' >93</text>
<line x1="371.66" y1="1157.20" x2="371.66" y2="1159.50" stroke="#333" stroke-width="0.9"/>
<text x="371.66" y="1167.40" font-size="8.1" text-anchor="middle" fill="#222" font-weight="normal" font-family='"Liberation Sans", sans-serif' >124</text>
<line x1="432.57" y1="1157.20" x2="432.57" y2="1159.50" stroke="#333" stroke-width="0.9"/>
<text x="432.57" y="1167.40" font-size="8.1" text-anchor="middle" fill="#222" font-weight="normal" font-family='"Liberation Sans", sans-serif' >155</text>
<line x1="493.49" y1="1157.20" x2="493.49" y2="1159.50" stroke="#333" stroke-width="0.9"/>
<text x="493.49" y="1167.40" font-size="8.1" text-anchor="middle" fill="#222" font-weight="normal" font-family='"Liberation Sans", sans-serif' >186</text>
<text x="324.55" y="1178.20" font-size="9.85" text-anchor="middle" fill="#000" font-weight="normal" font-family='"Liberation Sans", sans-serif' >Days After Admission</text>
<text transform="translate(11.20,1029.55) rotate(-90) scale(1,1.0)" font-size="9.8" text-anchor="middle" font-family='"Liberation Sans", sans-serif' fill="#000">Survival</text>
<text x="591.00" y="1043.00" font-size="6.7" text-anchor="start" fill="#000" font-weight="normal" font-family='"Liberation Sans", sans-serif' >Region</text>
<line x1="592.00" y1="1053.30" x2="601.80" y2="1053.30" stroke="#EFF3FF" stroke-width="1.4"/>
<line x1="596.60" y1="1050.80" x2="596.60" y2="1055.80" stroke="#EFF3FF" stroke-width="1.0"/>
<text x="606.40" y="1055.70" font-size="6.85" text-anchor="start" fill="#000" font-weight="normal" font-family='"Liberation Sans", sans-serif' >East Asia</text>
<line x1="592.00" y1="1065.05" x2="601.80" y2="1065.05" stroke="#C6DBEF" stroke-width="1.4"/>
<line x1="596.60" y1="1062.55" x2="596.60" y2="1067.55" stroke="#C6DBEF" stroke-width="1.0"/>
<text x="606.40" y="1067.45" font-size="6.85" text-anchor="start" fill="#000" font-weight="normal" font-family='"Liberation Sans", sans-serif' >Europe and Central Asia</text>
<line x1="592.00" y1="1076.80" x2="601.80" y2="1076.80" stroke="#9ECAE1" stroke-width="1.4"/>
<line x1="596.60" y1="1074.30" x2="596.60" y2="1079.30" stroke="#9ECAE1" stroke-width="1.0"/>
<text x="606.40" y="1079.20" font-size="6.85" text-anchor="start" fill="#000" font-weight="normal" font-family='"Liberation Sans", sans-serif' >Latin America</text>
<line x1="592.00" y1="1088.55" x2="601.80" y2="1088.55" stroke="#6BAED6" stroke-width="1.4"/>
<line x1="596.60" y1="1086.05" x2="596.60" y2="1091.05" stroke="#6BAED6" stroke-width="1.0"/>
<text x="606.40" y="1090.95" font-size="6.85" text-anchor="start" fill="#000" font-weight="normal" font-family='"Liberation Sans", sans-serif' >MENA</text>
<line x1="592.00" y1="1100.30" x2="601.80" y2="1100.30" stroke="#4292C6" stroke-width="1.4"/>
<line x1="596.60" y1="1097.80" x2="596.60" y2="1102.80" stroke="#4292C6" stroke-width="1.0"/>
<text x="606.40" y="1102.70" font-size="6.85" text-anchor="start" fill="#000" font-weight="normal" font-family='"Liberation Sans", sans-serif' >North America</text>
<line x1="592.00" y1="1112.05" x2="601.80" y2="1112.05" stroke="#2171B5" stroke-width="1.4"/>
<line x1="596.60" y1="1109.55" x2="596.60" y2="1114.55" stroke="#2171B5" stroke-width="1.0"/>
<text x="606.40" y="1114.45" font-size="6.85" text-anchor="start" fill="#000" font-weight="normal" font-family='"Liberation Sans", sans-serif' >South Asia</text>
<line x1="592.00" y1="1123.80" x2="601.80" y2="1123.80" stroke="#084594" stroke-width="1.4"/>
<line x1="596.60" y1="1121.30" x2="596.60" y2="1126.30" stroke="#084594" stroke-width="1.0"/>
<text x="606.40" y="1126.20" font-size="6.85" text-anchor="start" fill="#000" font-weight="normal" font-family='"Liberation Sans", sans-serif' >Sub-Saharan Africa</text>
<text x="108.50" y="1195.60" font-size="11.05" text-anchor="start" fill="#000" font-weight="normal" font-family='"Liberation Sans", sans-serif' >Number at risk</text>
<line x1="108.50" y1="1202.40" x2="108.50" y2="1258.05" stroke="#2a2a2a" stroke-width="1.1"/>
<line x1="107.95" y1="1257.50" x2="540.60" y2="1257.50" stroke="#2a2a2a" stroke-width="1.1"/>
<line x1="106.00" y1="1206.60" x2="108.50" y2="1206.60" stroke="#333" stroke-width="0.9"/>
<text x="104.30" y="1209.50" font-size="8.2" text-anchor="end" fill="#EFF3FF" font-weight="normal" font-family='"Liberation Sans", sans-serif' >East Asia</text>
<text x="128.00" y="1209.60" font-size="8.8" text-anchor="middle" fill="#000" font-weight="normal" font-family='"Liberation Sans", sans-serif' >7972</text>
<text x="188.91" y="1209.60" font-size="8.8" text-anchor="middle" fill="#000" font-weight="normal" font-family='"Liberation Sans", sans-serif' >7348</text>
<text x="249.83" y="1209.60" font-size="8.8" text-anchor="middle" fill="#000" font-weight="normal" font-family='"Liberation Sans", sans-serif' >7313</text>
<text x="310.75" y="1209.60" font-size="8.8" text-anchor="middle" fill="#000" font-weight="normal" font-family='"Liberation Sans", sans-serif' >7307</text>
<text x="371.66" y="1209.60" font-size="8.8" text-anchor="middle" fill="#000" font-weight="normal" font-family='"Liberation Sans", sans-serif' >7305</text>
<text x="432.57" y="1209.60" font-size="8.8" text-anchor="middle" fill="#000" font-weight="normal" font-family='"Liberation Sans", sans-serif' >7305</text>
<text x="493.49" y="1209.60" font-size="8.8" text-anchor="middle" fill="#000" font-weight="normal" font-family='"Liberation Sans", sans-serif' >7305</text>
<line x1="106.00" y1="1214.34" x2="108.50" y2="1214.34" stroke="#333" stroke-width="0.9"/>
<text x="104.30" y="1217.24" font-size="8.2" text-anchor="end" fill="#C6DBEF" font-weight="normal" font-family='"Liberation Sans", sans-serif' >Europe and Central Asia</text>
<text x="128.00" y="1217.34" font-size="8.8" text-anchor="middle" fill="#000" font-weight="normal" font-family='"Liberation Sans", sans-serif' >242889</text>
<text x="188.91" y="1217.34" font-size="8.8" text-anchor="middle" fill="#000" font-weight="normal" font-family='"Liberation Sans", sans-serif' >194335</text>
<text x="249.83" y="1217.34" font-size="8.8" text-anchor="middle" fill="#000" font-weight="normal" font-family='"Liberation Sans", sans-serif' >189241</text>
<text x="310.75" y="1217.34" font-size="8.8" text-anchor="middle" fill="#000" font-weight="normal" font-family='"Liberation Sans", sans-serif' >188540</text>
<text x="371.66" y="1217.34" font-size="8.8" text-anchor="middle" fill="#000" font-weight="normal" font-family='"Liberation Sans", sans-serif' >188323</text>
<text x="432.57" y="1217.34" font-size="8.8" text-anchor="middle" fill="#000" font-weight="normal" font-family='"Liberation Sans", sans-serif' >188240</text>
<text x="493.49" y="1217.34" font-size="8.8" text-anchor="middle" fill="#000" font-weight="normal" font-family='"Liberation Sans", sans-serif' >188192</text>
<line x1="106.00" y1="1222.08" x2="108.50" y2="1222.08" stroke="#333" stroke-width="0.9"/>
<text x="104.30" y="1224.98" font-size="8.2" text-anchor="end" fill="#9ECAE1" font-weight="normal" font-family='"Liberation Sans", sans-serif' >Latin America</text>
<text x="128.00" y="1225.08" font-size="8.8" text-anchor="middle" fill="#000" font-weight="normal" font-family='"Liberation Sans", sans-serif' >4926</text>
<text x="188.91" y="1225.08" font-size="8.8" text-anchor="middle" fill="#000" font-weight="normal" font-family='"Liberation Sans", sans-serif' >4279</text>
<text x="249.83" y="1225.08" font-size="8.8" text-anchor="middle" fill="#000" font-weight="normal" font-family='"Liberation Sans", sans-serif' >4187</text>
<text x="310.75" y="1225.08" font-size="8.8" text-anchor="middle" fill="#000" font-weight="normal" font-family='"Liberation Sans", sans-serif' >4167</text>
<text x="371.66" y="1225.08" font-size="8.8" text-anchor="middle" fill="#000" font-weight="normal" font-family='"Liberation Sans", sans-serif' >4160</text>
<text x="432.57" y="1225.08" font-size="8.8" text-anchor="middle" fill="#000" font-weight="normal" font-family='"Liberation Sans", sans-serif' >4158</text>
<text x="493.49" y="1225.08" font-size="8.8" text-anchor="middle" fill="#000" font-weight="normal" font-family='"Liberation Sans", sans-serif' >4157</text>
<line x1="106.00" y1="1229.82" x2="108.50" y2="1229.82" stroke="#333" stroke-width="0.9"/>
<text x="104.30" y="1232.72" font-size="8.2" text-anchor="end" fill="#6BAED6" font-weight="normal" font-family='"Liberation Sans", sans-serif' >MENA</text>
<text x="128.00" y="1232.82" font-size="8.8" text-anchor="middle" fill="#000" font-weight="normal" font-family='"Liberation Sans", sans-serif' >1229</text>
<text x="188.91" y="1232.82" font-size="8.8" text-anchor="middle" fill="#000" font-weight="normal" font-family='"Liberation Sans", sans-serif' >947</text>
<text x="249.83" y="1232.82" font-size="8.8" text-anchor="middle" fill="#000" font-weight="normal" font-family='"Liberation Sans", sans-serif' >891</text>
<text x="310.75" y="1232.82" font-size="8.8" text-anchor="middle" fill="#000" font-weight="normal" font-family='"Liberation Sans", sans-serif' >878</text>
<text x="371.66" y="1232.82" font-size="8.8" text-anchor="middle" fill="#000" font-weight="normal" font-family='"Liberation Sans", sans-serif' >877</text>
<text x="432.57" y="1232.82" font-size="8.8" text-anchor="middle" fill="#000" font-weight="normal" font-family='"Liberation Sans", sans-serif' >877</text>
<text x="493.49" y="1232.82" font-size="8.8" text-anchor="middle" fill="#000" font-weight="normal" font-family='"Liberation Sans", sans-serif' >877</text>
<line x1="106.00" y1="1237.56" x2="108.50" y2="1237.56" stroke="#333" stroke-width="0.9"/>
<text x="104.30" y="1240.46" font-size="8.2" text-anchor="end" fill="#4292C6" font-weight="normal" font-family='"Liberation Sans", sans-serif' >North America</text>
<text x="128.00" y="1240.56" font-size="8.8" text-anchor="middle" fill="#000" font-weight="normal" font-family='"Liberation Sans", sans-serif' >8038</text>
<text x="188.91" y="1240.56" font-size="8.8" text-anchor="middle" fill="#000" font-weight="normal" font-family='"Liberation Sans", sans-serif' >6344</text>
<text x="249.83" y="1240.56" font-size="8.8" text-anchor="middle" fill="#000" font-weight="normal" font-family='"Liberation Sans", sans-serif' >6091</text>
<text x="310.75" y="1240.56" font-size="8.8" text-anchor="middle" fill="#000" font-weight="normal" font-family='"Liberation Sans", sans-serif' >6063</text>
<text x="371.66" y="1240.56" font-size="8.8" text-anchor="middle" fill="#000" font-weight="normal" font-family='"Liberation Sans", sans-serif' >6052</text>
<text x="432.57" y="1240.56" font-size="8.8" text-anchor="middle" fill="#000" font-weight="normal" font-family='"Liberation Sans", sans-serif' >6046</text>
<text x="493.49" y="1240.56" font-size="8.8" text-anchor="middle" fill="#000" font-weight="normal" font-family='"Liberation Sans", sans-serif' >6041</text>
<line x1="106.00" y1="1245.30" x2="108.50" y2="1245.30" stroke="#333" stroke-width="0.9"/>
<text x="104.30" y="1248.20" font-size="8.2" text-anchor="end" fill="#2171B5" font-weight="normal" font-family='"Liberation Sans", sans-serif' >South Asia</text>
<text x="128.00" y="1248.30" font-size="8.8" text-anchor="middle" fill="#000" font-weight="normal" font-family='"Liberation Sans", sans-serif' >16247</text>
<text x="188.91" y="1248.30" font-size="8.8" text-anchor="middle" fill="#000" font-weight="normal" font-family='"Liberation Sans", sans-serif' >11155</text>
<text x="249.83" y="1248.30" font-size="8.8" text-anchor="middle" fill="#000" font-weight="normal" font-family='"Liberation Sans", sans-serif' >11065</text>
<text x="310.75" y="1248.30" font-size="8.8" text-anchor="middle" fill="#000" font-weight="normal" font-family='"Liberation Sans", sans-serif' >11060</text>
<text x="371.66" y="1248.30" font-size="8.8" text-anchor="middle" fill="#000" font-weight="normal" font-family='"Liberation Sans", sans-serif' >11060</text>
<text x="432.57" y="1248.30" font-size="8.8" text-anchor="middle" fill="#000" font-weight="normal" font-family='"Liberation Sans", sans-serif' >11059</text>
<text x="493.49" y="1248.30" font-size="8.8" text-anchor="middle" fill="#000" font-weight="normal" font-family='"Liberation Sans", sans-serif' >11058</text>
<line x1="106.00" y1="1253.04" x2="108.50" y2="1253.04" stroke="#333" stroke-width="0.9"/>
<text x="104.30" y="1255.94" font-size="8.2" text-anchor="end" fill="#084594" font-weight="normal" font-family='"Liberation Sans", sans-serif' >Sub-Saharan Africa</text>
<text x="128.00" y="1256.04" font-size="8.8" text-anchor="middle" fill="#000" font-weight="normal" font-family='"Liberation Sans", sans-serif' >417391</text>
<text x="188.91" y="1256.04" font-size="8.8" text-anchor="middle" fill="#000" font-weight="normal" font-family='"Liberation Sans", sans-serif' >325010</text>
<text x="249.83" y="1256.04" font-size="8.8" text-anchor="middle" fill="#000" font-weight="normal" font-family='"Liberation Sans", sans-serif' >321312</text>
<text x="310.75" y="1256.04" font-size="8.8" text-anchor="middle" fill="#000" font-weight="normal" font-family='"Liberation Sans", sans-serif' >320959</text>
<text x="371.66" y="1256.04" font-size="8.8" text-anchor="middle" fill="#000" font-weight="normal" font-family='"Liberation Sans", sans-serif' >320869</text>
<text x="432.57" y="1256.04" font-size="8.8" text-anchor="middle" fill="#000" font-weight="normal" font-family='"Liberation Sans", sans-serif' >320821</text>
<text x="493.49" y="1256.04" font-size="8.8" text-anchor="middle" fill="#000" font-weight="normal" font-family='"Liberation Sans", sans-serif' >320787</text>
<line x1="128.00" y1="1257.50" x2="128.00" y2="1259.80" stroke="#333" stroke-width="0.9"/>
<text x="128.00" y="1267.50" font-size="8.1" text-anchor="middle" fill="#222" font-weight="normal" font-family='"Liberation Sans", sans-serif' >0</text>
<line x1="188.91" y1="1257.50" x2="188.91" y2="1259.80" stroke="#333" stroke-width="0.9"/>
<text x="188.91" y="1267.50" font-size="8.1" text-anchor="middle" fill="#222" font-weight="normal" font-family='"Liberation Sans", sans-serif' >31</text>
<line x1="249.83" y1="1257.50" x2="249.83" y2="1259.80" stroke="#333" stroke-width="0.9"/>
<text x="249.83" y="1267.50" font-size="8.1" text-anchor="middle" fill="#222" font-weight="normal" font-family='"Liberation Sans", sans-serif' >62</text>
<line x1="310.75" y1="1257.50" x2="310.75" y2="1259.80" stroke="#333" stroke-width="0.9"/>
<text x="310.75" y="1267.50" font-size="8.1" text-anchor="middle" fill="#222" font-weight="normal" font-family='"Liberation Sans", sans-serif' >93</text>
<line x1="371.66" y1="1257.50" x2="371.66" y2="1259.80" stroke="#333" stroke-width="0.9"/>
<text x="371.66" y="1267.50" font-size="8.1" text-anchor="middle" fill="#222" font-weight="normal" font-family='"Liberation Sans", sans-serif' >124</text>
<line x1="432.57" y1="1257.50" x2="432.57" y2="1259.80" stroke="#333" stroke-width="0.9"/>
<text x="432.57" y="1267.50" font-size="8.1" text-anchor="middle" fill="#222" font-weight="normal" font-family='"Liberation Sans", sans-serif' >155</text>
<line x1="493.49" y1="1257.50" x2="493.49" y2="1259.80" stroke="#333" stroke-width="0.9"/>
<text x="493.49" y="1267.50" font-size="8.1" text-anchor="middle" fill="#222" font-weight="normal" font-family='"Liberation Sans", sans-serif' >186</text>
<text x="324.55" y="1277.50" font-size="9.85" text-anchor="middle" fill="#000" font-weight="normal" font-family='"Liberation Sans", sans-serif' >Days After Admission</text>
<text transform="translate(10.90,1229.95) rotate(-90) scale(1,1.0)" font-size="10.3" text-anchor="middle" font-family='"Liberation Sans", sans-serif' fill="#000">Region</text>
<text x="342.5" y="1311.00" font-size="19.2" text-anchor="middle" fill="#000"><tspan font-family='"Liberation Sans", sans-serif' font-weight="bold">(c)</tspan><tspan font-family='"Liberation Serif", serif'> By Region of Admission</tspan></text>
</svg>
</body></html>
